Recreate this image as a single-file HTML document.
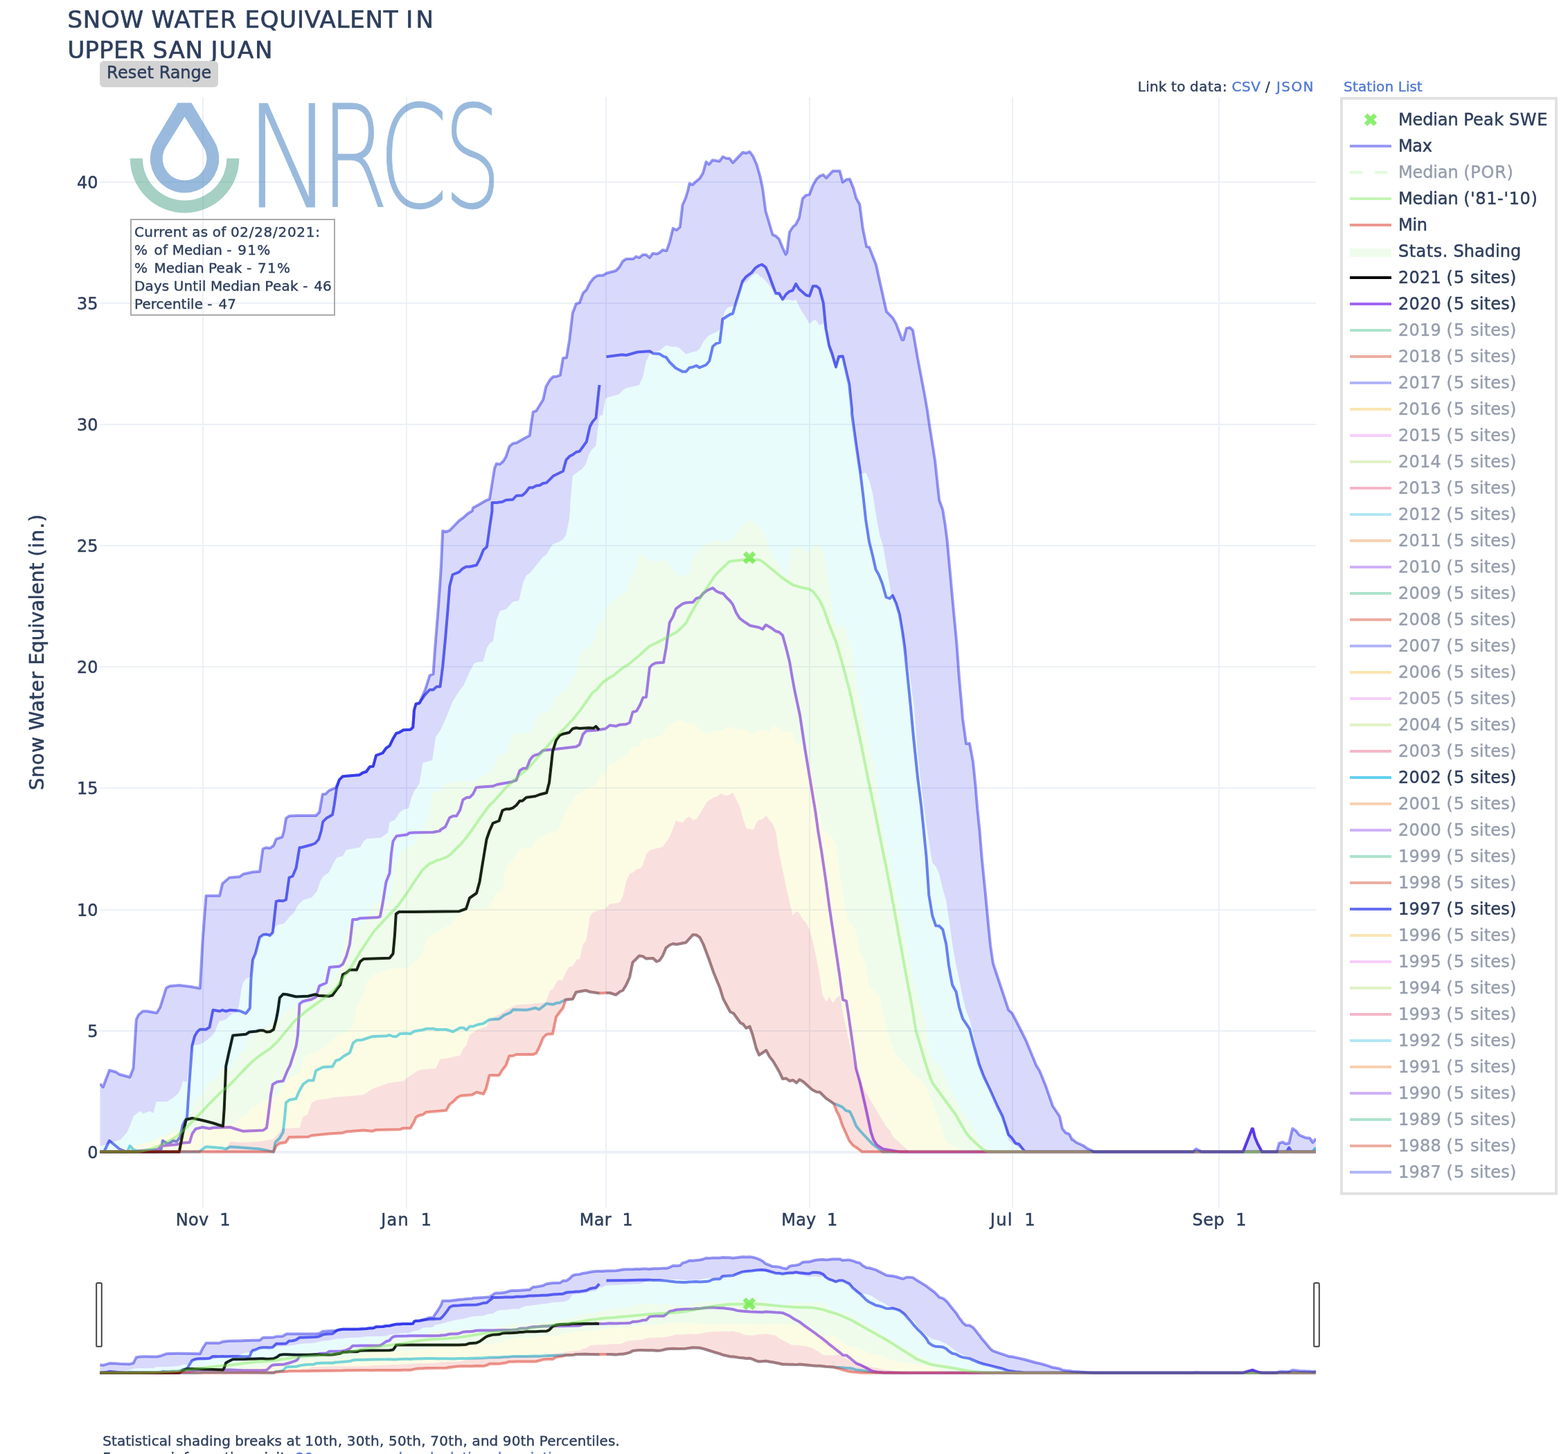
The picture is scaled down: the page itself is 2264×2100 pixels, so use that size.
<!DOCTYPE html>
<html lang="en"><head><meta charset="utf-8"><title>Snow Water Equivalent in Upper San Juan</title>
<style>html,body{margin:0;padding:0;background:#fff}body{width:2264px;height:2100px;overflow:hidden}svg{display:block}text{font-family:'DejaVu Sans','Liberation Sans',sans-serif;fill:rgb(46,62,92);stroke:rgb(46,62,92);white-space:pre}.lk{fill:rgb(81,121,212);stroke:rgb(81,121,212)}.dim{opacity:.5}</style>
</head><body>
<svg width="2264" height="2100" viewBox="0 0 2264 2100">
<rect width="2264" height="2100" fill="#fff"/>
<g stroke="rgb(236,240,247)" stroke-width="2" fill="none">
<path d="M293.0,140 V1744"/>
<path d="M587.0,140 V1744"/>
<path d="M875.0,140 V1744"/>
<path d="M1169.0,140 V1744"/>
<path d="M1462.0,140 V1744"/>
<path d="M1760.0,140 V1744"/>
<path d="M144,1489.0 H1900"/>
<path d="M144,1314.0 H1900"/>
<path d="M144,1138.0 H1900"/>
<path d="M144,963.0 H1900"/>
<path d="M144,788.0 H1900"/>
<path d="M144,613.0 H1900"/>
<path d="M144,438.0 H1900"/>
<path d="M144,263.0 H1900"/>
</g>
<path d="M144,1664.0 H1900" stroke="rgb(236,240,247)" stroke-width="4" fill="none"/>
<g opacity="0.5"><path d="M256.7,148.5 L276.5,148.5 L309.2,203.3 A49.7,49.7 0 1 1 224.0,203.3 Z M266.6,168.7 L293.6,212.0 A31.8,31.8 0 1 1 239.6,212.0 Z" fill="#3777bd" fill-rule="evenodd"/><path d="M187.8,228.8 A78.8,78.8 0 0 0 345.4,228.8 L327.3,228.8 A60.7,60.7 0 0 1 205.9,228.8 Z" fill="#4da389"/><text y="298.7" font-size="204.3" font-weight="200" style="font-family:'DejaVu Sans','Liberation Sans',sans-serif;fill:#3777bd;stroke:#3777bd;stroke-width:1.0"><tspan x="353.84" textLength="126.41" lengthAdjust="spacingAndGlyphs">N</tspan><tspan x="463.21" textLength="97.64" lengthAdjust="spacingAndGlyphs">R</tspan><tspan x="546.60" textLength="100.06" lengthAdjust="spacingAndGlyphs">C</tspan><tspan x="640.70" textLength="82.84" lengthAdjust="spacingAndGlyphs">S</tspan></text></g>
<defs><clipPath id="cp"><rect x="144" y="140" width="1756" height="1604"/></clipPath></defs>
<g clip-path="url(#cp)" fill="none" stroke-linejoin="round" stroke-linecap="butt">
<path d="M144.5,1663.6 L150.0,1663.6 L158.0,1647.5 L172.5,1659.5 L182.5,1663.6 L232.5,1660.0 L235.0,1647.5 L242.5,1652.5 L246.2,1650.0 L250.0,1647.5 L255.0,1648.8 L260.0,1642.5 L263.8,1625.0 L266.2,1620.0 L270.0,1615.0 L273.8,1557.5 L277.5,1510.0 L281.2,1496.2 L285.0,1490.0 L288.8,1486.8 L297.5,1486.8 L302.5,1483.8 L307.5,1458.8 L317.5,1460.5 L321.2,1458.8 L326.2,1460.5 L332.5,1458.8 L346.2,1460.0 L355.0,1463.8 L360.8,1456.2 L362.5,1412.5 L365.0,1386.2 L368.8,1377.5 L375.0,1353.8 L380.0,1350.0 L385.0,1349.5 L389.5,1351.2 L393.8,1347.0 L396.2,1325.0 L398.8,1302.0 L402.5,1300.8 L408.8,1301.2 L413.0,1299.5 L417.5,1267.5 L422.5,1265.5 L427.5,1253.8 L432.5,1224.2 L436.2,1223.8 L450.0,1220.0 L455.0,1218.0 L460.0,1212.5 L463.8,1200.0 L466.2,1186.8 L471.2,1181.8 L480.0,1176.8 L482.5,1163.0 L486.2,1137.5 L490.0,1126.2 L495.0,1121.2 L510.0,1120.0 L518.8,1119.2 L523.8,1116.0 L528.8,1114.5 L533.8,1107.5 L538.8,1106.8 L543.0,1091.2 L552.5,1087.5 L557.5,1080.5 L562.5,1077.2 L567.5,1066.8 L572.0,1059.2 L576.2,1058.0 L582.5,1054.2 L592.5,1053.8 L596.2,1050.5 L598.0,1025.5 L600.5,1016.8 L605.5,1015.5 L613.0,1004.2 L620.5,996.2 L625.5,996.2 L630.5,991.8 L635.5,991.8 L639.2,963.0 L643.0,923.0 L646.8,878.0 L649.2,846.8 L653.5,830.0 L663.0,826.2 L668.0,821.2 L673.0,818.5 L678.0,818.5 L688.0,816.2 L693.0,806.8 L698.0,794.2 L703.0,789.8 L706.8,763.0 L710.5,738.0 L710.5,726.0 L716.8,726.0 L725.5,724.8 L730.5,722.2 L740.5,721.5 L745.5,716.0 L754.2,715.5 L759.2,711.0 L764.2,704.2 L769.2,704.2 L774.2,701.5 L779.2,701.0 L784.2,698.0 L789.2,697.2 L799.2,687.2 L813.0,680.5 L817.5,664.2 L823.0,658.5 L826.8,656.8 L831.8,653.0 L836.8,651.8 L846.8,638.0 L851.8,616.0 L855.5,609.2 L860.5,603.5 L863.0,578.5 L865.5,556.0" stroke="rgb(101,110,242)" stroke-width="4"/>
<path d="M875.5,515.2 L898.0,512.2 L904.2,513.0 L920.5,508.5 L938.0,507.2 L943.0,510.5 L951.8,511.0 L958.0,514.8 L961.8,516.0 L966.8,523.0 L975.5,531.5 L985.5,536.8 L990.5,536.8 L995.5,531.0 L1000.5,530.2 L1005.5,528.0 L1010.0,531.0 L1019.2,527.2 L1024.2,521.5 L1029.2,500.2 L1034.2,496.0 L1039.2,494.8 L1043.5,461.0 L1054.2,454.0 L1058.0,453.0 L1063.0,436.0 L1068.0,419.8 L1072.2,406.0 L1076.8,400.2 L1085.5,393.5 L1090.5,387.2 L1096.0,383.5 L1100.0,382.0 L1105.5,385.8 L1110.0,396.2 L1115.0,410.0 L1120.0,423.8 L1125.0,423.8 L1130.0,432.5 L1135.0,425.0 L1140.0,420.8 L1144.5,419.5 L1149.2,410.0 L1153.8,417.5 L1163.8,426.2 L1168.8,427.5 L1173.8,413.2 L1178.8,413.2 L1183.2,416.8 L1188.8,437.5 L1192.5,475.0 L1197.0,498.8 L1201.2,510.0 L1207.0,530.0 L1211.2,515.0 L1216.8,514.5 L1221.2,533.8 L1226.2,555.0 L1230.0,592.0 L1230.0,597.5 L1236.2,642.5 L1242.5,685.0 L1246.2,715.0 L1250.0,750.0 L1255.0,782.5 L1260.0,802.5 L1264.5,822.5 L1268.8,830.0 L1273.8,842.5 L1279.5,862.5 L1284.5,864.5 L1288.8,860.0 L1293.8,871.2 L1298.8,887.5 L1303.0,912.5 L1306.2,935.0 L1310.0,972.5 L1315.0,1022.0 L1318.8,1063.0 L1325.0,1123.0 L1330.0,1163.0 L1333.8,1200.0 L1337.5,1237.5 L1341.2,1292.5 L1346.2,1322.5 L1351.2,1337.0 L1356.2,1337.5 L1361.2,1342.5 L1366.2,1363.8 L1370.0,1395.0 L1375.0,1422.5 L1380.5,1432.5 L1385.0,1455.0 L1390.0,1471.2 L1400.0,1486.2 L1406.2,1510.0 L1413.8,1537.5 L1420.0,1553.8 L1430.0,1575.0 L1440.0,1597.5 L1447.5,1612.5 L1456.2,1638.8 L1461.2,1643.8 L1466.2,1651.2 L1471.2,1652.5 L1480.0,1663.6 L1482.5,1663.6 L1857.5,1663.6 L1861.2,1657.5 L1865.0,1663.6 L1900.0,1663.6" stroke="rgb(101,110,242)" stroke-width="4"/>
<path d="M144.5,1663.6 L183.8,1663.6 L187.5,1655.0 L192.5,1660.0 L200.0,1663.6 L287.5,1663.6 L297.5,1656.2 L320.0,1658.0 L326.2,1659.5 L332.5,1656.2 L350.0,1657.5 L375.0,1659.5 L395.0,1663.6 L397.5,1650.0 L403.8,1643.8 L408.8,1635.0 L411.2,1612.5 L413.0,1592.5 L417.5,1588.8 L427.5,1586.8 L431.2,1577.5 L437.5,1566.2 L445.0,1560.5 L452.5,1560.5 L456.2,1546.2 L466.2,1541.2 L480.0,1540.5 L485.0,1531.8 L490.0,1530.5 L496.2,1525.5 L505.0,1520.5 L510.0,1506.2 L515.0,1502.5 L522.5,1502.0 L537.5,1497.0 L557.5,1496.2 L562.5,1495.0 L567.5,1497.0 L572.5,1497.0 L577.5,1493.0 L587.5,1492.5 L592.5,1493.2 L598.0,1489.5 L610.5,1487.5 L615.5,1485.8 L625.5,1485.8 L630.5,1487.0 L644.2,1487.0 L654.2,1490.0 L664.2,1484.5 L669.2,1484.5 L673.5,1487.5 L678.0,1482.5 L683.0,1482.5 L689.2,1480.0 L698.0,1478.2 L706.8,1472.5 L720.5,1471.8 L728.0,1466.2 L736.8,1462.5 L741.0,1458.2 L760.5,1458.8 L773.0,1455.8 L778.5,1458.0 L789.2,1449.5 L798.0,1450.8 L803.0,1448.8 L808.0,1448.2 L816.8,1443.8 L826.8,1443.0 L831.8,1433.0 L845.5,1430.5 L851.8,1432.5 L865.5,1434.5" stroke="rgb(99,208,239)" stroke-width="4"/>
<path d="M875.5,1434.0 L880.5,1434.0 L889.2,1436.8 L895.5,1432.0 L899.2,1430.5 L904.2,1422.5 L909.2,1411.2 L913.5,1390.0 L923.0,1380.5 L928.0,1381.2 L933.0,1384.5 L943.0,1384.0 L948.0,1388.8 L952.5,1387.0 L956.8,1380.5 L961.8,1368.8 L966.8,1365.0 L971.8,1363.0 L976.8,1364.0 L990.5,1361.2 L1000.5,1350.0 L1005.5,1350.5 L1010.5,1353.8 L1015.5,1363.8 L1023.0,1383.8 L1030.5,1405.0 L1039.2,1426.2 L1044.2,1442.5 L1054.2,1461.2 L1059.2,1463.8 L1069.2,1477.5 L1073.0,1479.2 L1077.5,1485.0 L1082.5,1482.5 L1086.8,1495.0 L1091.8,1513.8 L1096.0,1523.8 L1106.2,1517.0 L1111.2,1526.2 L1116.2,1532.5 L1125.0,1547.5 L1130.0,1558.2 L1135.0,1557.5 L1140.0,1561.2 L1145.0,1560.0 L1150.0,1563.8 L1154.5,1559.2 L1160.0,1562.5 L1172.5,1573.8 L1178.8,1577.0 L1183.8,1577.5 L1192.5,1586.2 L1203.8,1593.8 L1210.0,1596.2 L1216.2,1598.8 L1221.2,1603.8 L1227.0,1605.5 L1231.2,1613.8 L1236.2,1626.2 L1241.2,1632.5 L1250.0,1642.0 L1260.0,1652.5 L1270.0,1660.0 L1275.0,1663.6 L1895.0,1663.6 L1900.0,1657.5" stroke="rgb(99,208,239)" stroke-width="4"/>
<path d="M144.5,1663.6 L225.0,1663.6 L232.5,1655.0 L255.0,1653.0 L262.5,1650.8 L273.8,1650.0 L277.5,1637.5 L282.5,1630.5 L292.5,1628.0 L302.5,1630.0 L307.5,1628.8 L332.5,1628.0 L340.0,1630.5 L351.2,1633.8 L380.0,1632.5 L385.0,1628.8 L387.5,1610.0 L391.2,1580.0 L393.8,1566.2 L400.0,1562.5 L408.8,1561.2 L415.0,1546.2 L418.8,1538.8 L427.5,1511.2 L430.0,1495.0 L432.5,1450.0 L437.5,1446.2 L450.0,1443.2 L456.2,1440.0 L461.2,1423.8 L471.2,1419.5 L475.8,1397.0 L490.0,1395.8 L495.0,1392.5 L500.0,1381.2 L505.0,1363.8 L509.2,1328.0 L515.0,1328.0 L520.0,1326.2 L545.0,1325.0 L548.8,1323.8 L552.5,1305.0 L557.5,1273.8 L562.5,1261.2 L565.0,1232.5 L567.5,1215.0 L572.5,1207.5 L587.5,1205.5 L591.2,1203.0 L598.0,1202.5 L625.5,1202.0 L635.5,1200.0 L635.5,1198.8 L643.0,1194.2 L649.2,1181.0 L654.2,1178.5 L659.2,1178.5 L664.2,1170.0 L668.5,1155.0 L674.2,1151.8 L678.0,1151.8 L683.0,1146.8 L687.5,1137.5 L693.0,1136.8 L711.8,1135.5 L718.0,1133.0 L739.2,1129.2 L745.5,1126.8 L750.5,1113.0 L755.5,1109.8 L760.5,1109.8 L765.0,1098.0 L769.2,1092.5 L773.0,1090.5 L778.0,1089.2 L784.2,1083.8 L798.0,1082.5 L810.5,1081.0 L831.8,1078.5 L836.8,1075.5 L841.8,1060.5 L846.8,1055.5 L860.5,1054.8 L874.2,1052.5 L880.5,1047.5 L889.2,1048.8 L894.2,1046.8 L904.2,1046.0 L909.2,1043.5 L913.5,1028.5 L919.2,1026.8 L924.2,1018.0 L928.5,1007.5 L933.0,1006.8 L935.5,985.5 L938.0,964.2 L941.8,960.0 L946.8,957.5 L958.0,956.8 L961.8,935.5 L964.2,918.0 L966.8,899.2 L971.8,890.5 L976.0,879.2 L985.5,872.2 L990.5,870.5 L1000.5,869.8 L1005.5,864.2 L1010.5,863.0 L1015.5,856.8 L1020.5,853.0 L1029.2,849.2 L1034.2,853.8 L1039.2,856.0 L1044.2,857.2 L1048.0,861.8 L1054.2,868.0 L1058.0,873.0 L1063.0,885.0 L1068.0,893.0 L1073.0,896.8 L1083.0,903.5 L1096.0,906.2 L1101.2,908.8 L1105.8,902.5 L1112.5,906.2 L1120.5,911.8 L1125.0,913.0 L1130.0,917.5 L1135.0,935.5 L1140.0,955.5 L1143.8,978.0 L1147.5,998.0 L1155.0,1033.0 L1162.5,1083.0 L1170.0,1128.0 L1177.5,1173.0 L1181.2,1200.0 L1186.2,1230.0 L1192.5,1272.5 L1197.5,1310.0 L1205.0,1360.0 L1212.5,1410.0 L1217.0,1443.8 L1222.0,1445.8 L1225.0,1465.0 L1230.0,1500.0 L1236.2,1543.8 L1241.2,1561.2 L1250.0,1600.0 L1257.5,1635.0 L1261.2,1646.2 L1266.2,1653.8 L1275.0,1659.5 L1300.0,1663.6 L1794.8,1663.6 L1807.8,1630.2 L1809.0,1630.2 L1812.0,1642.5 L1816.0,1652.0 L1822.2,1663.6 L1843.5,1663.6 L1900.0,1663.6" stroke="rgb(161,102,242)" stroke-width="4"/>
<path d="M144.5,1663.6 L258.8,1663.6 L263.8,1637.5 L268.8,1617.0 L277.5,1615.0 L287.5,1617.0 L295.0,1618.8 L307.5,1622.0 L315.0,1624.5 L322.0,1626.5 L323.8,1600.0 L326.2,1540.0 L330.0,1522.5 L336.2,1495.5 L355.0,1493.8 L360.0,1490.5 L370.0,1489.5 L375.0,1488.2 L380.0,1488.2 L385.0,1490.5 L390.0,1490.0 L395.0,1487.0 L398.8,1472.5 L401.2,1460.0 L403.8,1441.2 L408.8,1435.8 L413.8,1436.2 L427.5,1439.5 L445.0,1438.8 L455.0,1436.2 L460.0,1438.0 L475.0,1438.8 L480.0,1437.5 L486.2,1428.8 L491.2,1422.5 L495.0,1407.5 L500.0,1405.0 L505.0,1400.8 L515.0,1400.8 L520.0,1388.8 L525.0,1385.0 L562.5,1383.8 L567.5,1377.5 L570.0,1350.0 L571.8,1320.0 L576.2,1317.0 L598.0,1317.0 L663.0,1316.2 L673.0,1312.5 L678.0,1297.0 L688.0,1290.0 L692.5,1273.8 L695.5,1255.0 L699.2,1232.5 L702.5,1212.5 L706.8,1200.0 L711.8,1188.8 L720.5,1185.5 L725.5,1170.5 L730.5,1168.5 L735.5,1168.5 L740.5,1166.8 L745.5,1163.0 L750.5,1156.8 L754.2,1156.8 L760.0,1151.8 L773.0,1150.0 L780.5,1147.2 L789.2,1145.0 L793.0,1130.5 L795.5,1108.0 L798.0,1085.5 L803.0,1069.2 L808.0,1062.2 L813.0,1060.0 L821.8,1058.0 L826.8,1052.5 L831.8,1051.2 L836.8,1052.0 L850.5,1051.2 L856.8,1051.8 L860.5,1049.2 L865.0,1054.2" stroke="#000" stroke-width="4"/>
<path d="M144.5,1663.6 L325.0,1660.0 L332.5,1648.8 L350.0,1650.0 L375.0,1648.8 L395.0,1645.0 L407.5,1630.0 L432.5,1628.8 L437.5,1612.5 L443.8,1610.0 L450.0,1592.5 L457.5,1588.8 L470.0,1587.5 L480.0,1585.0 L525.0,1581.2 L537.5,1572.5 L562.5,1563.8 L582.5,1561.2 L590.0,1555.0 L598.0,1550.0 L603.0,1546.2 L610.5,1544.5 L629.2,1543.0 L635.5,1529.5 L644.2,1528.8 L658.0,1525.5 L664.2,1524.5 L669.2,1513.8 L673.0,1510.0 L678.0,1495.0 L688.0,1487.5 L703.0,1482.5 L706.8,1472.5 L720.5,1465.0 L733.0,1457.5 L745.5,1451.2 L768.0,1450.0 L773.0,1449.2 L788.0,1447.5 L794.2,1430.0 L798.0,1428.8 L804.2,1417.5 L808.0,1415.0 L811.8,1416.2 L818.0,1402.0 L821.8,1396.2 L826.8,1395.5 L833.0,1385.5 L836.8,1385.0 L841.8,1363.8 L846.0,1358.8 L848.0,1347.5 L851.8,1323.8 L855.5,1318.8 L863.0,1315.0 L873.0,1313.8 L880.5,1305.5 L894.2,1303.8 L899.2,1295.0 L904.2,1272.5 L909.2,1262.0 L914.2,1260.0 L919.2,1255.0 L924.2,1254.5 L928.0,1250.0 L933.0,1233.8 L938.0,1228.0 L956.8,1223.0 L965.5,1210.5 L970.5,1200.0 L970.5,1200.0 L975.5,1185.5 L985.5,1188.0 L990.5,1181.8 L995.5,1179.2 L1000.5,1184.2 L1005.5,1183.0 L1014.2,1169.2 L1020.5,1158.0 L1030.5,1151.8 L1035.5,1150.5 L1040.5,1146.0 L1048.0,1149.2 L1053.0,1148.0 L1058.0,1144.2 L1068.0,1164.2 L1073.0,1183.0 L1078.0,1196.8 L1088.0,1198.0 L1093.0,1186.8 L1096.0,1184.2 L1101.2,1183.0 L1106.2,1177.5 L1111.2,1185.0 L1115.5,1189.2 L1120.0,1200.0 L1125.0,1232.5 L1135.0,1280.0 L1144.5,1322.5 L1149.5,1316.2 L1153.8,1318.0 L1158.8,1327.5 L1163.8,1332.0 L1168.8,1342.5 L1175.0,1365.0 L1182.5,1402.5 L1187.5,1436.2 L1193.0,1447.0 L1197.5,1439.2 L1202.5,1448.8 L1207.5,1441.2 L1212.5,1437.5 L1217.5,1465.0 L1225.0,1500.0 L1232.5,1532.5 L1240.0,1555.0 L1250.0,1577.5 L1265.0,1602.5 L1280.0,1627.5 L1285.0,1632.5 L1290.0,1642.5 L1297.5,1648.8 L1305.0,1656.2 L1310.0,1660.0 L1312.5,1663.6 L1900.0,1663.6 L1900.0,1663.6 L1245.0,1663.6 L1237.5,1658.0 L1231.2,1653.8 L1226.2,1647.5 L1221.2,1636.2 L1216.2,1625.0 L1212.0,1612.5 L1207.5,1603.8 L1203.8,1593.8 L1192.5,1586.2 L1183.8,1577.5 L1178.8,1577.0 L1172.5,1573.8 L1160.0,1562.5 L1154.5,1559.2 L1150.0,1563.8 L1145.0,1560.0 L1140.0,1561.2 L1135.0,1557.5 L1130.0,1558.2 L1125.0,1547.5 L1116.2,1532.5 L1111.2,1526.2 L1106.2,1517.0 L1096.0,1523.8 L1091.8,1513.8 L1086.8,1495.0 L1082.5,1482.5 L1077.5,1485.0 L1073.0,1479.2 L1069.2,1477.5 L1059.2,1463.8 L1054.2,1461.2 L1044.2,1442.5 L1039.2,1426.2 L1030.5,1405.0 L1023.0,1383.8 L1015.5,1363.8 L1010.5,1353.8 L1005.5,1350.5 L1000.5,1350.0 L990.5,1361.2 L976.8,1364.0 L971.8,1363.0 L966.8,1365.0 L961.8,1368.8 L956.8,1380.5 L952.5,1387.0 L948.0,1388.8 L943.0,1384.0 L933.0,1384.5 L928.0,1381.2 L923.0,1380.5 L913.5,1390.0 L909.2,1411.2 L904.2,1422.5 L899.2,1430.5 L895.5,1432.0 L889.2,1436.8 L880.5,1434.0 L875.5,1434.0 L865.5,1434.5 L851.8,1432.5 L845.5,1430.5 L831.8,1433.0 L826.8,1443.0 L816.8,1443.8 L813.0,1455.5 L808.0,1462.0 L803.0,1468.8 L798.0,1493.2 L789.2,1493.8 L784.2,1498.8 L779.2,1511.2 L774.2,1521.2 L769.2,1523.0 L745.5,1523.0 L740.5,1525.0 L735.5,1525.0 L730.5,1538.8 L725.5,1545.0 L720.5,1553.0 L706.8,1553.0 L701.8,1572.5 L698.0,1580.0 L688.0,1577.5 L681.8,1581.2 L665.5,1582.5 L660.5,1585.0 L654.2,1591.2 L649.2,1595.0 L644.2,1603.8 L615.5,1606.2 L610.5,1610.0 L605.5,1610.8 L600.5,1613.8 L598.0,1620.0 L592.5,1629.5 L582.5,1629.5 L577.5,1631.2 L542.5,1632.0 L537.5,1633.8 L525.0,1632.5 L500.0,1634.5 L495.0,1636.2 L475.0,1637.5 L450.0,1640.0 L445.0,1642.0 L417.5,1642.5 L412.5,1650.0 L403.8,1651.2 L398.8,1655.0 L395.0,1663.6 L144.5,1663.6Z" fill="rgba(217,47,32,0.15)"/>
<path d="M144.5,1663.6 L185.0,1657.5 L200.0,1652.5 L220.0,1650.0 L232.5,1642.5 L240.0,1642.5 L247.5,1637.5 L262.5,1636.2 L280.0,1635.0 L290.0,1630.0 L312.5,1628.8 L325.0,1625.0 L340.0,1622.5 L347.5,1612.5 L357.5,1610.0 L362.5,1600.0 L375.0,1595.0 L385.0,1587.5 L400.0,1582.5 L410.0,1567.5 L420.0,1555.0 L432.5,1550.0 L437.5,1532.5 L445.0,1522.5 L460.0,1518.8 L475.0,1507.5 L487.5,1495.0 L500.0,1491.2 L510.0,1482.5 L515.0,1455.0 L525.0,1437.5 L530.0,1417.5 L540.0,1407.5 L562.5,1400.0 L575.0,1397.5 L590.0,1397.5 L598.0,1388.8 L605.5,1384.5 L610.5,1376.2 L615.5,1360.0 L620.5,1351.2 L629.2,1348.8 L635.5,1343.8 L645.5,1337.5 L651.8,1336.2 L659.2,1323.8 L668.0,1320.0 L673.0,1313.8 L703.0,1311.2 L708.0,1307.5 L711.8,1300.0 L716.8,1288.8 L723.0,1287.5 L726.8,1281.2 L729.2,1260.0 L733.0,1248.8 L740.5,1242.5 L748.0,1230.0 L754.2,1225.0 L768.0,1223.8 L773.0,1216.2 L778.0,1210.0 L793.0,1203.8 L798.0,1201.2 L805.5,1200.0 L805.5,1200.0 L811.8,1185.5 L818.0,1169.2 L824.2,1163.0 L831.8,1148.0 L838.0,1145.5 L848.0,1138.0 L860.5,1133.5 L866.8,1120.0 L873.0,1118.5 L879.2,1104.2 L889.2,1101.8 L894.2,1096.8 L903.0,1091.8 L910.5,1083.0 L914.2,1078.0 L923.0,1077.5 L928.0,1068.0 L941.8,1066.8 L946.8,1064.2 L955.5,1063.0 L963.0,1050.5 L970.5,1044.2 L983.0,1040.0 L990.5,1044.2 L1000.5,1044.2 L1008.0,1051.8 L1018.0,1059.2 L1028.0,1056.8 L1045.5,1054.2 L1050.5,1050.5 L1056.8,1049.2 L1063.0,1055.5 L1068.0,1052.5 L1073.0,1052.5 L1085.5,1059.2 L1096.0,1055.0 L1101.2,1053.0 L1110.0,1057.5 L1116.2,1048.0 L1122.5,1050.5 L1131.2,1057.5 L1138.8,1056.0 L1143.8,1058.0 L1150.0,1074.2 L1157.5,1073.0 L1162.5,1088.0 L1170.0,1113.0 L1177.5,1148.0 L1185.0,1183.0 L1190.0,1200.0 L1197.5,1205.0 L1207.5,1218.8 L1212.5,1262.5 L1220.0,1310.0 L1225.0,1330.0 L1236.2,1345.0 L1241.2,1372.5 L1250.0,1392.5 L1255.0,1425.0 L1270.0,1437.5 L1275.0,1465.0 L1282.5,1492.5 L1292.5,1522.5 L1305.0,1535.0 L1315.0,1547.5 L1327.5,1558.8 L1340.0,1575.0 L1347.5,1595.0 L1360.0,1630.0 L1365.0,1647.5 L1372.5,1653.8 L1385.0,1658.8 L1392.5,1663.6 L1900.0,1663.6 L1900.0,1663.6 L1312.5,1663.6 L1310.0,1660.0 L1305.0,1656.2 L1297.5,1648.8 L1290.0,1642.5 L1285.0,1632.5 L1280.0,1627.5 L1265.0,1602.5 L1250.0,1577.5 L1240.0,1555.0 L1232.5,1532.5 L1225.0,1500.0 L1217.5,1465.0 L1212.5,1437.5 L1207.5,1441.2 L1202.5,1448.8 L1197.5,1439.2 L1193.0,1447.0 L1187.5,1436.2 L1182.5,1402.5 L1175.0,1365.0 L1168.8,1342.5 L1163.8,1332.0 L1158.8,1327.5 L1153.8,1318.0 L1149.5,1316.2 L1144.5,1322.5 L1135.0,1280.0 L1125.0,1232.5 L1120.0,1200.0 L1115.5,1189.2 L1111.2,1185.0 L1106.2,1177.5 L1101.2,1183.0 L1096.0,1184.2 L1093.0,1186.8 L1088.0,1198.0 L1078.0,1196.8 L1073.0,1183.0 L1068.0,1164.2 L1058.0,1144.2 L1053.0,1148.0 L1048.0,1149.2 L1040.5,1146.0 L1035.5,1150.5 L1030.5,1151.8 L1020.5,1158.0 L1014.2,1169.2 L1005.5,1183.0 L1000.5,1184.2 L995.5,1179.2 L990.5,1181.8 L985.5,1188.0 L975.5,1185.5 L970.5,1200.0 L970.5,1200.0 L965.5,1210.5 L956.8,1223.0 L938.0,1228.0 L933.0,1233.8 L928.0,1250.0 L924.2,1254.5 L919.2,1255.0 L914.2,1260.0 L909.2,1262.0 L904.2,1272.5 L899.2,1295.0 L894.2,1303.8 L880.5,1305.5 L873.0,1313.8 L863.0,1315.0 L855.5,1318.8 L851.8,1323.8 L848.0,1347.5 L846.0,1358.8 L841.8,1363.8 L836.8,1385.0 L833.0,1385.5 L826.8,1395.5 L821.8,1396.2 L818.0,1402.0 L811.8,1416.2 L808.0,1415.0 L804.2,1417.5 L798.0,1428.8 L794.2,1430.0 L788.0,1447.5 L773.0,1449.2 L768.0,1450.0 L745.5,1451.2 L733.0,1457.5 L720.5,1465.0 L706.8,1472.5 L703.0,1482.5 L688.0,1487.5 L678.0,1495.0 L673.0,1510.0 L669.2,1513.8 L664.2,1524.5 L658.0,1525.5 L644.2,1528.8 L635.5,1529.5 L629.2,1543.0 L610.5,1544.5 L603.0,1546.2 L598.0,1550.0 L590.0,1555.0 L582.5,1561.2 L562.5,1563.8 L537.5,1572.5 L525.0,1581.2 L480.0,1585.0 L470.0,1587.5 L457.5,1588.8 L450.0,1592.5 L443.8,1610.0 L437.5,1612.5 L432.5,1628.8 L407.5,1630.0 L395.0,1645.0 L375.0,1648.8 L350.0,1650.0 L332.5,1648.8 L325.0,1660.0 L144.5,1663.6Z" fill="rgba(237,237,78,0.15)"/>
<path d="M144.5,1663.6 L185.2,1656.0 L218.3,1648.5 L230.4,1642.5 L245.4,1634.9 L251.4,1630.4 L268.0,1622.9 L275.5,1607.8 L280.1,1595.8 L284.6,1585.2 L290.6,1583.0 L293.6,1577.0 L299.6,1564.2 L310.2,1559.6 L319.2,1544.6 L335.8,1543.8 L340.3,1532.5 L347.8,1520.5 L353.9,1517.5 L356.9,1505.4 L361.4,1493.4 L370.4,1490.4 L381.0,1485.8 L396.0,1476.8 L405.1,1470.8 L411.1,1461.7 L418.6,1455.7 L429.2,1452.0 L440.0,1449.7 L450.0,1440.0 L470.0,1425.0 L490.0,1400.0 L500.0,1340.0 L525.0,1335.0 L535.0,1315.0 L540.0,1305.0 L562.5,1300.0 L570.0,1250.0 L580.0,1227.5 L598.0,1220.0 L601.8,1215.0 L604.2,1200.0 L610.5,1200.0 L616.8,1183.0 L620.5,1178.0 L624.2,1145.0 L635.5,1141.8 L639.2,1133.0 L660.5,1129.2 L678.0,1128.0 L685.5,1130.5 L691.8,1123.0 L698.0,1120.0 L705.5,1115.5 L713.0,1108.0 L720.5,1090.5 L730.5,1089.2 L740.5,1060.5 L768.0,1056.8 L773.0,1038.0 L778.0,1030.5 L793.0,1027.5 L800.5,1008.0 L805.5,1004.2 L818.0,996.8 L823.0,984.2 L831.8,974.2 L834.2,958.0 L838.0,943.0 L844.2,936.8 L848.0,936.8 L855.5,930.5 L860.5,913.0 L866.8,896.0 L871.8,895.5 L875.5,878.0 L880.5,873.0 L894.2,860.5 L905.5,855.0 L910.5,835.5 L918.0,823.0 L923.0,800.5 L928.0,800.5 L938.0,808.8 L948.0,811.8 L958.0,808.8 L963.0,811.2 L973.0,823.0 L979.2,830.0 L984.2,831.8 L995.5,829.2 L1000.5,803.0 L1005.5,798.0 L1010.5,794.2 L1015.5,788.0 L1023.0,784.2 L1035.5,779.2 L1040.5,780.5 L1043.0,785.5 L1058.0,778.0 L1065.5,766.8 L1073.0,756.8 L1083.0,751.8 L1090.5,754.2 L1096.0,759.2 L1097.5,763.0 L1103.8,770.5 L1110.0,788.0 L1116.2,803.0 L1121.2,810.5 L1125.0,813.0 L1130.0,831.8 L1135.0,831.8 L1140.0,810.5 L1143.8,794.2 L1148.8,790.0 L1157.5,789.2 L1163.8,796.8 L1168.8,798.0 L1173.8,788.0 L1181.2,785.5 L1186.2,789.2 L1191.2,806.8 L1195.0,828.0 L1200.0,868.0 L1205.0,898.0 L1207.5,905.5 L1212.5,901.8 L1220.0,908.0 L1225.0,920.5 L1232.5,955.5 L1240.0,1000.5 L1247.5,1038.0 L1255.0,1073.0 L1262.5,1113.0 L1270.0,1158.0 L1275.0,1200.0 L1282.5,1237.5 L1290.0,1267.5 L1297.5,1305.0 L1302.5,1337.5 L1310.0,1372.5 L1315.0,1395.0 L1320.0,1420.0 L1325.0,1442.5 L1332.5,1457.5 L1337.5,1482.5 L1340.0,1505.0 L1345.0,1525.0 L1350.0,1535.0 L1356.2,1537.5 L1365.0,1555.0 L1375.0,1580.0 L1387.5,1602.5 L1400.0,1620.0 L1410.0,1640.0 L1420.0,1655.0 L1430.0,1663.6 L1900.0,1663.6 L1900.0,1663.6 L1392.5,1663.6 L1385.0,1658.8 L1372.5,1653.8 L1365.0,1647.5 L1360.0,1630.0 L1347.5,1595.0 L1340.0,1575.0 L1327.5,1558.8 L1315.0,1547.5 L1305.0,1535.0 L1292.5,1522.5 L1282.5,1492.5 L1275.0,1465.0 L1270.0,1437.5 L1255.0,1425.0 L1250.0,1392.5 L1241.2,1372.5 L1236.2,1345.0 L1225.0,1330.0 L1220.0,1310.0 L1212.5,1262.5 L1207.5,1218.8 L1197.5,1205.0 L1190.0,1200.0 L1185.0,1183.0 L1177.5,1148.0 L1170.0,1113.0 L1162.5,1088.0 L1157.5,1073.0 L1150.0,1074.2 L1143.8,1058.0 L1138.8,1056.0 L1131.2,1057.5 L1122.5,1050.5 L1116.2,1048.0 L1110.0,1057.5 L1101.2,1053.0 L1096.0,1055.0 L1085.5,1059.2 L1073.0,1052.5 L1068.0,1052.5 L1063.0,1055.5 L1056.8,1049.2 L1050.5,1050.5 L1045.5,1054.2 L1028.0,1056.8 L1018.0,1059.2 L1008.0,1051.8 L1000.5,1044.2 L990.5,1044.2 L983.0,1040.0 L970.5,1044.2 L963.0,1050.5 L955.5,1063.0 L946.8,1064.2 L941.8,1066.8 L928.0,1068.0 L923.0,1077.5 L914.2,1078.0 L910.5,1083.0 L903.0,1091.8 L894.2,1096.8 L889.2,1101.8 L879.2,1104.2 L873.0,1118.5 L866.8,1120.0 L860.5,1133.5 L848.0,1138.0 L838.0,1145.5 L831.8,1148.0 L824.2,1163.0 L818.0,1169.2 L811.8,1185.5 L805.5,1200.0 L805.5,1200.0 L798.0,1201.2 L793.0,1203.8 L778.0,1210.0 L773.0,1216.2 L768.0,1223.8 L754.2,1225.0 L748.0,1230.0 L740.5,1242.5 L733.0,1248.8 L729.2,1260.0 L726.8,1281.2 L723.0,1287.5 L716.8,1288.8 L711.8,1300.0 L708.0,1307.5 L703.0,1311.2 L673.0,1313.8 L668.0,1320.0 L659.2,1323.8 L651.8,1336.2 L645.5,1337.5 L635.5,1343.8 L629.2,1348.8 L620.5,1351.2 L615.5,1360.0 L610.5,1376.2 L605.5,1384.5 L598.0,1388.8 L590.0,1397.5 L575.0,1397.5 L562.5,1400.0 L540.0,1407.5 L530.0,1417.5 L525.0,1437.5 L515.0,1455.0 L510.0,1482.5 L500.0,1491.2 L487.5,1495.0 L475.0,1507.5 L460.0,1518.8 L445.0,1522.5 L437.5,1532.5 L432.5,1550.0 L420.0,1555.0 L410.0,1567.5 L400.0,1582.5 L385.0,1587.5 L375.0,1595.0 L362.5,1600.0 L357.5,1610.0 L347.5,1612.5 L340.0,1622.5 L325.0,1625.0 L312.5,1628.8 L290.0,1630.0 L280.0,1635.0 L262.5,1636.2 L247.5,1637.5 L240.0,1642.5 L232.5,1642.5 L220.0,1650.0 L200.0,1652.5 L185.0,1657.5 L144.5,1663.6Z" fill="rgba(147,234,129,0.15)"/>
<path d="M144.5,1656.0 L174.6,1645.5 L183.7,1634.9 L188.2,1624.4 L192.7,1612.3 L201.7,1604.8 L207.0,1608.6 L216.1,1604.8 L221.3,1607.8 L225.8,1591.3 L240.9,1591.3 L248.4,1586.7 L257.5,1579.2 L260.5,1573.2 L264.2,1561.1 L269.5,1562.7 L272.5,1544.6 L275.5,1520.5 L278.6,1509.9 L289.1,1508.4 L296.6,1503.9 L305.7,1496.4 L310.2,1490.4 L316.2,1475.3 L326.7,1472.3 L334.3,1464.8 L341.8,1461.7 L344.8,1452.7 L347.8,1433.1 L350.8,1419.6 L355.4,1413.6 L361.4,1410.5 L365.0,1386.2 L368.8,1377.5 L375.0,1353.8 L380.0,1350.0 L389.5,1351.2 L393.8,1347.0 L396.2,1340.0 L400.0,1336.2 L410.0,1333.8 L417.5,1325.0 L425.0,1317.5 L430.0,1307.5 L437.5,1300.0 L450.0,1296.2 L457.5,1287.5 L462.5,1272.5 L467.5,1265.0 L475.0,1260.0 L482.5,1245.0 L486.2,1238.8 L495.0,1236.2 L500.0,1227.5 L520.0,1223.8 L525.0,1215.0 L530.0,1211.2 L550.0,1210.0 L560.0,1202.5 L560.5,1200.0 L562.5,1187.5 L570.0,1184.2 L577.5,1173.0 L582.5,1169.2 L590.0,1167.5 L593.8,1153.0 L598.0,1143.0 L605.5,1131.8 L610.5,1101.8 L624.2,1098.0 L629.2,1064.2 L635.5,1055.5 L644.2,1036.8 L653.0,1014.2 L663.0,998.0 L669.2,990.5 L678.0,970.5 L684.2,958.8 L689.2,956.2 L697.5,955.5 L703.0,935.5 L708.0,928.0 L711.8,926.8 L716.8,895.5 L721.8,882.5 L730.5,880.0 L740.5,869.2 L749.2,867.5 L755.5,840.5 L760.5,830.5 L765.5,827.5 L773.0,818.0 L783.0,805.5 L789.2,800.5 L798.0,786.0 L805.5,783.5 L813.0,779.2 L817.5,771.8 L821.8,750.5 L823.0,738.0 L823.5,726.0 L826.8,687.2 L840.5,677.2 L845.5,671.0 L850.5,656.0 L854.2,649.8 L860.5,643.5 L863.0,621.0 L865.5,600.2 L870.0,599.8 L874.2,576.0 L875.5,574.8 L894.2,569.2 L899.2,563.5 L904.2,560.5 L923.0,556.0 L928.0,544.8 L933.0,522.2 L938.0,511.0 L953.0,506.0 L961.8,498.5 L970.5,501.0 L975.5,500.5 L980.5,502.2 L990.5,511.5 L998.0,509.0 L1005.5,507.2 L1010.5,503.5 L1015.5,493.5 L1023.0,484.8 L1034.2,479.8 L1039.2,476.0 L1043.5,461.0 L1045.5,452.2 L1049.2,445.5 L1054.2,443.0 L1060.5,442.2 L1063.0,436.0 L1068.0,419.8 L1072.2,408.5 L1076.8,408.5 L1085.5,398.5 L1091.8,394.8 L1096.0,397.2 L1096.2,398.8 L1101.2,401.2 L1110.0,411.2 L1120.0,423.8 L1130.0,433.8 L1140.0,433.0 L1145.0,434.2 L1149.2,432.5 L1155.0,445.0 L1168.8,467.5 L1173.8,463.2 L1178.0,462.0 L1183.2,470.0 L1188.8,467.0 L1192.5,480.0 L1197.0,507.5 L1207.0,535.0 L1211.2,520.0 L1216.8,516.2 L1221.2,533.8 L1226.2,555.0 L1230.0,592.0 L1236.2,642.5 L1242.5,685.0 L1246.2,683.8 L1250.0,682.5 L1255.0,693.8 L1260.0,712.5 L1265.0,745.0 L1270.0,772.5 L1275.0,788.8 L1280.0,817.5 L1286.2,855.0 L1288.8,863.8 L1293.8,871.2 L1298.8,887.5 L1303.0,912.5 L1306.2,935.0 L1312.5,967.5 L1320.0,1022.0 L1325.0,1088.0 L1331.2,1143.0 L1338.8,1200.0 L1346.2,1246.2 L1351.2,1251.2 L1356.2,1262.5 L1361.2,1283.8 L1366.2,1301.2 L1371.2,1335.0 L1375.0,1362.5 L1380.0,1392.5 L1385.0,1415.0 L1390.0,1440.0 L1395.0,1460.0 L1400.0,1472.5 L1405.0,1492.5 L1413.8,1537.5 L1420.0,1553.8 L1430.0,1575.0 L1440.0,1597.5 L1447.5,1612.5 L1456.2,1647.5 L1466.2,1653.8 L1480.0,1663.6 L1482.5,1663.6 L1900.0,1663.6 L1900.0,1663.6 L1430.0,1663.6 L1420.0,1655.0 L1410.0,1640.0 L1400.0,1620.0 L1387.5,1602.5 L1375.0,1580.0 L1365.0,1555.0 L1356.2,1537.5 L1350.0,1535.0 L1345.0,1525.0 L1340.0,1505.0 L1337.5,1482.5 L1332.5,1457.5 L1325.0,1442.5 L1320.0,1420.0 L1315.0,1395.0 L1310.0,1372.5 L1302.5,1337.5 L1297.5,1305.0 L1290.0,1267.5 L1282.5,1237.5 L1275.0,1200.0 L1270.0,1158.0 L1262.5,1113.0 L1255.0,1073.0 L1247.5,1038.0 L1240.0,1000.5 L1232.5,955.5 L1225.0,920.5 L1220.0,908.0 L1212.5,901.8 L1207.5,905.5 L1205.0,898.0 L1200.0,868.0 L1195.0,828.0 L1191.2,806.8 L1186.2,789.2 L1181.2,785.5 L1173.8,788.0 L1168.8,798.0 L1163.8,796.8 L1157.5,789.2 L1148.8,790.0 L1143.8,794.2 L1140.0,810.5 L1135.0,831.8 L1130.0,831.8 L1125.0,813.0 L1121.2,810.5 L1116.2,803.0 L1110.0,788.0 L1103.8,770.5 L1097.5,763.0 L1096.0,759.2 L1090.5,754.2 L1083.0,751.8 L1073.0,756.8 L1065.5,766.8 L1058.0,778.0 L1043.0,785.5 L1040.5,780.5 L1035.5,779.2 L1023.0,784.2 L1015.5,788.0 L1010.5,794.2 L1005.5,798.0 L1000.5,803.0 L995.5,829.2 L984.2,831.8 L979.2,830.0 L973.0,823.0 L963.0,811.2 L958.0,808.8 L948.0,811.8 L938.0,808.8 L928.0,800.5 L923.0,800.5 L918.0,823.0 L910.5,835.5 L905.5,855.0 L894.2,860.5 L880.5,873.0 L875.5,878.0 L871.8,895.5 L866.8,896.0 L860.5,913.0 L855.5,930.5 L848.0,936.8 L844.2,936.8 L838.0,943.0 L834.2,958.0 L831.8,974.2 L823.0,984.2 L818.0,996.8 L805.5,1004.2 L800.5,1008.0 L793.0,1027.5 L778.0,1030.5 L773.0,1038.0 L768.0,1056.8 L740.5,1060.5 L730.5,1089.2 L720.5,1090.5 L713.0,1108.0 L705.5,1115.5 L698.0,1120.0 L691.8,1123.0 L685.5,1130.5 L678.0,1128.0 L660.5,1129.2 L639.2,1133.0 L635.5,1141.8 L624.2,1145.0 L620.5,1178.0 L616.8,1183.0 L610.5,1200.0 L604.2,1200.0 L601.8,1215.0 L598.0,1220.0 L580.0,1227.5 L570.0,1250.0 L562.5,1300.0 L540.0,1305.0 L535.0,1315.0 L525.0,1335.0 L500.0,1340.0 L490.0,1400.0 L470.0,1425.0 L450.0,1440.0 L440.0,1449.7 L429.2,1452.0 L418.6,1455.7 L411.1,1461.7 L405.1,1470.8 L396.0,1476.8 L381.0,1485.8 L370.4,1490.4 L361.4,1493.4 L356.9,1505.4 L353.9,1517.5 L347.8,1520.5 L340.3,1532.5 L335.8,1543.8 L319.2,1544.6 L310.2,1559.6 L299.6,1564.2 L293.6,1577.0 L290.6,1583.0 L284.6,1585.2 L280.1,1595.8 L275.5,1607.8 L268.0,1622.9 L251.4,1630.4 L245.4,1634.9 L230.4,1642.5 L218.3,1648.5 L185.2,1656.0 L144.5,1663.6Z" fill="rgba(108,233,235,0.15)"/>
<path d="M144.5,1565.5 L148.8,1570.0 L158.0,1545.8 L167.0,1548.2 L172.5,1551.8 L187.5,1555.8 L192.5,1543.0 L194.5,1510.0 L196.8,1472.5 L200.0,1465.8 L206.2,1460.5 L212.5,1460.5 L226.2,1463.0 L231.2,1455.0 L240.0,1427.0 L245.0,1424.2 L258.8,1423.0 L275.0,1425.0 L288.8,1427.5 L292.5,1360.0 L297.5,1293.8 L317.0,1293.8 L321.2,1276.2 L331.2,1267.5 L346.2,1266.2 L351.2,1262.5 L365.0,1259.5 L375.0,1258.8 L379.5,1226.2 L383.8,1224.2 L390.0,1225.0 L395.0,1221.2 L398.8,1211.8 L407.5,1208.8 L410.0,1200.0 L413.0,1181.8 L417.5,1178.5 L430.0,1178.0 L456.2,1178.0 L461.2,1173.0 L465.8,1147.2 L470.0,1146.8 L475.0,1141.8 L485.0,1137.5 L490.0,1126.2 L495.0,1121.2 L510.0,1120.0 L518.8,1119.2 L523.8,1116.0 L528.8,1114.5 L533.8,1107.5 L538.8,1106.8 L543.0,1091.2 L552.5,1087.5 L557.5,1080.5 L562.5,1077.2 L567.5,1066.8 L572.0,1059.2 L576.2,1058.0 L582.5,1054.2 L592.5,1053.8 L596.2,1050.5 L598.0,1025.5 L600.5,1016.8 L605.5,1015.5 L614.2,995.5 L620.5,975.5 L625.5,973.5 L628.0,938.0 L633.0,875.5 L636.8,820.5 L639.2,766.8 L644.2,768.0 L649.2,766.2 L663.0,751.8 L669.2,747.5 L675.5,741.8 L681.8,738.0 L683.0,733.5 L693.0,728.0 L701.8,722.8 L706.8,721.0 L710.5,698.5 L714.2,676.0 L716.8,669.8 L721.8,670.5 L726.8,666.0 L730.5,659.8 L735.5,644.8 L740.5,640.5 L745.5,639.8 L754.2,634.8 L764.8,629.0 L766.8,613.5 L769.8,594.8 L774.2,593.5 L784.2,577.2 L788.5,558.0 L794.2,548.5 L798.8,544.0 L803.0,544.0 L808.8,541.8 L813.0,517.2 L818.0,516.5 L822.2,491.0 L826.8,452.2 L831.8,439.0 L836.8,437.2 L841.8,423.5 L846.8,418.5 L851.8,408.5 L856.8,402.2 L861.8,398.5 L865.5,397.8 L870.5,397.8 L875.5,394.8 L889.2,391.0 L894.2,386.0 L899.2,377.2 L904.2,374.0 L914.2,374.0 L918.5,370.5 L923.0,372.2 L928.0,368.0 L933.0,368.0 L938.0,372.2 L942.5,366.0 L948.0,366.8 L952.5,364.8 L956.8,361.0 L962.5,362.2 L966.8,349.8 L971.8,329.8 L976.8,332.2 L981.8,328.0 L985.5,296.0 L990.0,286.0 L993.0,276.0 L995.5,265.0 L1000.0,266.8 L1005.0,262.0 L1010.0,258.2 L1015.0,250.0 L1019.5,233.8 L1023.8,237.5 L1028.8,231.2 L1038.8,233.0 L1043.8,226.2 L1048.8,228.8 L1053.2,228.8 L1058.2,235.0 L1072.5,220.0 L1077.5,221.2 L1082.5,219.2 L1087.5,226.2 L1092.5,237.5 L1097.5,255.0 L1101.2,272.5 L1105.5,305.0 L1110.0,320.0 L1115.5,338.8 L1120.0,340.8 L1125.0,345.5 L1130.0,358.0 L1134.5,367.5 L1136.2,365.0 L1140.0,335.0 L1145.0,327.5 L1148.8,324.5 L1153.8,315.0 L1158.8,287.0 L1163.8,282.0 L1168.8,280.8 L1173.8,267.5 L1178.8,258.8 L1183.8,254.2 L1188.8,252.5 L1193.0,257.0 L1202.5,247.0 L1212.5,247.0 L1216.8,263.2 L1222.5,259.2 L1227.0,258.8 L1232.5,272.5 L1236.2,286.2 L1241.2,295.0 L1245.8,330.0 L1251.2,356.2 L1255.0,357.0 L1265.0,382.5 L1268.8,400.0 L1273.8,422.5 L1280.0,450.0 L1288.8,458.8 L1293.8,467.5 L1302.5,490.8 L1304.5,490.8 L1308.8,474.2 L1313.8,473.0 L1318.0,477.0 L1325.0,517.5 L1335.0,570.0 L1338.8,592.0 L1342.5,617.5 L1350.0,665.0 L1356.2,722.5 L1361.2,736.2 L1365.0,760.0 L1367.5,780.0 L1371.2,820.0 L1376.2,875.0 L1381.2,927.5 L1385.0,980.0 L1388.8,1022.0 L1390.0,1038.0 L1395.0,1074.2 L1400.0,1073.8 L1405.0,1100.5 L1408.8,1138.0 L1411.2,1168.0 L1414.5,1200.0 L1417.5,1237.5 L1422.5,1287.5 L1427.5,1340.0 L1430.0,1365.0 L1433.8,1391.2 L1440.0,1410.0 L1447.5,1432.5 L1456.2,1458.8 L1461.2,1463.2 L1470.0,1480.0 L1481.2,1502.5 L1490.0,1523.8 L1496.2,1538.8 L1501.2,1547.0 L1510.0,1568.8 L1520.0,1597.5 L1530.0,1612.5 L1533.8,1630.0 L1538.8,1636.2 L1543.8,1638.0 L1548.0,1646.2 L1548.8,1645.8 L1553.8,1650.0 L1563.8,1654.5 L1570.0,1658.8 L1580.0,1663.6 L1722.5,1663.6 L1727.0,1659.2 L1735.0,1663.6 L1794.8,1663.6 L1807.8,1630.2 L1809.0,1630.2 L1812.0,1642.5 L1816.0,1652.0 L1822.2,1663.6 L1843.5,1663.6 L1847.0,1651.2 L1852.0,1649.5 L1856.2,1652.0 L1861.2,1651.2 L1866.2,1630.0 L1871.2,1633.2 L1876.2,1639.5 L1885.0,1643.2 L1891.2,1643.8 L1895.5,1650.0 L1900.0,1644.5 L1900.0,1663.6 L1482.5,1663.6 L1480.0,1663.6 L1466.2,1653.8 L1456.2,1647.5 L1447.5,1612.5 L1440.0,1597.5 L1430.0,1575.0 L1420.0,1553.8 L1413.8,1537.5 L1405.0,1492.5 L1400.0,1472.5 L1395.0,1460.0 L1390.0,1440.0 L1385.0,1415.0 L1380.0,1392.5 L1375.0,1362.5 L1371.2,1335.0 L1366.2,1301.2 L1361.2,1283.8 L1356.2,1262.5 L1351.2,1251.2 L1346.2,1246.2 L1338.8,1200.0 L1331.2,1143.0 L1325.0,1088.0 L1320.0,1022.0 L1312.5,967.5 L1306.2,935.0 L1303.0,912.5 L1298.8,887.5 L1293.8,871.2 L1288.8,863.8 L1286.2,855.0 L1280.0,817.5 L1275.0,788.8 L1270.0,772.5 L1265.0,745.0 L1260.0,712.5 L1255.0,693.8 L1250.0,682.5 L1246.2,683.8 L1242.5,685.0 L1236.2,642.5 L1230.0,592.0 L1226.2,555.0 L1221.2,533.8 L1216.8,516.2 L1211.2,520.0 L1207.0,535.0 L1197.0,507.5 L1192.5,480.0 L1188.8,467.0 L1183.2,470.0 L1178.0,462.0 L1173.8,463.2 L1168.8,467.5 L1155.0,445.0 L1149.2,432.5 L1145.0,434.2 L1140.0,433.0 L1130.0,433.8 L1120.0,423.8 L1110.0,411.2 L1101.2,401.2 L1096.2,398.8 L1096.0,397.2 L1091.8,394.8 L1085.5,398.5 L1076.8,408.5 L1072.2,408.5 L1068.0,419.8 L1063.0,436.0 L1060.5,442.2 L1054.2,443.0 L1049.2,445.5 L1045.5,452.2 L1043.5,461.0 L1039.2,476.0 L1034.2,479.8 L1023.0,484.8 L1015.5,493.5 L1010.5,503.5 L1005.5,507.2 L998.0,509.0 L990.5,511.5 L980.5,502.2 L975.5,500.5 L970.5,501.0 L961.8,498.5 L953.0,506.0 L938.0,511.0 L933.0,522.2 L928.0,544.8 L923.0,556.0 L904.2,560.5 L899.2,563.5 L894.2,569.2 L875.5,574.8 L874.2,576.0 L870.0,599.8 L865.5,600.2 L863.0,621.0 L860.5,643.5 L854.2,649.8 L850.5,656.0 L845.5,671.0 L840.5,677.2 L826.8,687.2 L823.5,726.0 L823.0,738.0 L821.8,750.5 L817.5,771.8 L813.0,779.2 L805.5,783.5 L798.0,786.0 L789.2,800.5 L783.0,805.5 L773.0,818.0 L765.5,827.5 L760.5,830.5 L755.5,840.5 L749.2,867.5 L740.5,869.2 L730.5,880.0 L721.8,882.5 L716.8,895.5 L711.8,926.8 L708.0,928.0 L703.0,935.5 L697.5,955.5 L689.2,956.2 L684.2,958.8 L678.0,970.5 L669.2,990.5 L663.0,998.0 L653.0,1014.2 L644.2,1036.8 L635.5,1055.5 L629.2,1064.2 L624.2,1098.0 L610.5,1101.8 L605.5,1131.8 L598.0,1143.0 L593.8,1153.0 L590.0,1167.5 L582.5,1169.2 L577.5,1173.0 L570.0,1184.2 L562.5,1187.5 L560.5,1200.0 L560.0,1202.5 L550.0,1210.0 L530.0,1211.2 L525.0,1215.0 L520.0,1223.8 L500.0,1227.5 L495.0,1236.2 L486.2,1238.8 L482.5,1245.0 L475.0,1260.0 L467.5,1265.0 L462.5,1272.5 L457.5,1287.5 L450.0,1296.2 L437.5,1300.0 L430.0,1307.5 L425.0,1317.5 L417.5,1325.0 L410.0,1333.8 L400.0,1336.2 L396.2,1340.0 L393.8,1347.0 L389.5,1351.2 L380.0,1350.0 L375.0,1353.8 L368.8,1377.5 L365.0,1386.2 L361.4,1410.5 L355.4,1413.6 L350.8,1419.6 L347.8,1433.1 L344.8,1452.7 L341.8,1461.7 L334.3,1464.8 L326.7,1472.3 L316.2,1475.3 L310.2,1490.4 L305.7,1496.4 L296.6,1503.9 L289.1,1508.4 L278.6,1509.9 L275.5,1520.5 L272.5,1544.6 L269.5,1562.7 L264.2,1561.1 L260.5,1573.2 L257.5,1579.2 L248.4,1586.7 L240.9,1591.3 L225.8,1591.3 L221.3,1607.8 L216.1,1604.8 L207.0,1608.6 L201.7,1604.8 L192.7,1612.3 L188.2,1624.4 L183.7,1634.9 L174.6,1645.5 L144.5,1656.0Z" fill="rgba(1,0,227,0.15)"/>
<path d="M144.5,1663.6 L395.0,1663.6 L398.8,1655.0 L403.8,1651.2 L412.5,1650.0 L417.5,1642.5 L445.0,1642.0 L450.0,1640.0 L475.0,1637.5 L495.0,1636.2 L500.0,1634.5 L525.0,1632.5 L537.5,1633.8 L542.5,1632.0 L577.5,1631.2 L582.5,1629.5 L592.5,1629.5 L598.0,1620.0 L600.5,1613.8 L605.5,1610.8 L610.5,1610.0 L615.5,1606.2 L644.2,1603.8 L649.2,1595.0 L654.2,1591.2 L660.5,1585.0 L665.5,1582.5 L681.8,1581.2 L688.0,1577.5 L698.0,1580.0 L701.8,1572.5 L706.8,1553.0 L720.5,1553.0 L725.5,1545.0 L730.5,1538.8 L735.5,1525.0 L740.5,1525.0 L745.5,1523.0 L769.2,1523.0 L774.2,1521.2 L779.2,1511.2 L784.2,1498.8 L789.2,1493.8 L798.0,1493.2 L803.0,1468.8 L808.0,1462.0 L813.0,1455.5 L816.8,1443.8 L826.8,1443.0 L831.8,1433.0 L845.5,1430.5 L851.8,1432.5 L865.5,1434.5 L875.5,1434.0 L880.5,1434.0 L889.2,1436.8 L895.5,1432.0 L899.2,1430.5 L904.2,1422.5 L909.2,1411.2 L913.5,1390.0 L923.0,1380.5 L928.0,1381.2 L933.0,1384.5 L943.0,1384.0 L948.0,1388.8 L952.5,1387.0 L956.8,1380.5 L961.8,1368.8 L966.8,1365.0 L971.8,1363.0 L976.8,1364.0 L990.5,1361.2 L1000.5,1350.0 L1005.5,1350.5 L1010.5,1353.8 L1015.5,1363.8 L1023.0,1383.8 L1030.5,1405.0 L1039.2,1426.2 L1044.2,1442.5 L1054.2,1461.2 L1059.2,1463.8 L1069.2,1477.5 L1073.0,1479.2 L1077.5,1485.0 L1082.5,1482.5 L1086.8,1495.0 L1091.8,1513.8 L1096.0,1523.8 L1106.2,1517.0 L1111.2,1526.2 L1116.2,1532.5 L1125.0,1547.5 L1130.0,1558.2 L1135.0,1557.5 L1140.0,1561.2 L1145.0,1560.0 L1150.0,1563.8 L1154.5,1559.2 L1160.0,1562.5 L1172.5,1573.8 L1178.8,1577.0 L1183.8,1577.5 L1192.5,1586.2 L1203.8,1593.8 L1207.5,1603.8 L1212.0,1612.5 L1216.2,1625.0 L1221.2,1636.2 L1226.2,1647.5 L1231.2,1653.8 L1237.5,1658.0 L1245.0,1663.6 L1900.0,1663.6" stroke="rgba(217,47,32,0.5)" stroke-width="4"/>
<path d="M144.5,1663.6 L200.0,1663.6 L220.0,1658.8 L232.5,1653.8 L245.0,1647.5 L255.0,1641.2 L265.0,1632.5 L275.0,1622.5 L287.5,1610.0 L302.5,1593.8 L317.5,1578.8 L332.5,1566.2 L350.0,1547.5 L365.0,1532.5 L375.0,1524.5 L390.0,1514.5 L400.0,1505.0 L412.5,1490.0 L425.0,1475.0 L442.5,1460.0 L460.0,1447.5 L475.0,1436.2 L485.0,1427.5 L495.0,1412.5 L505.0,1400.0 L520.0,1375.0 L540.0,1345.0 L557.5,1326.2 L575.0,1307.5 L587.5,1290.0 L598.0,1273.8 L610.5,1256.2 L620.5,1247.0 L624.2,1246.2 L630.5,1242.5 L634.2,1242.0 L645.5,1237.5 L650.5,1233.8 L666.8,1217.5 L673.0,1210.0 L680.5,1200.0 L693.0,1181.8 L706.8,1163.0 L711.8,1158.8 L730.5,1137.5 L748.0,1121.8 L760.5,1111.8 L773.0,1098.0 L788.0,1080.5 L798.0,1069.2 L813.0,1054.2 L828.0,1038.0 L838.0,1025.5 L855.5,1000.5 L860.5,996.8 L870.5,985.5 L880.5,978.5 L885.5,976.0 L898.0,965.5 L908.0,959.2 L923.0,946.8 L938.0,933.0 L948.0,928.5 L960.5,921.8 L975.5,913.8 L980.5,910.0 L990.5,899.8 L998.0,885.5 L1008.0,868.0 L1023.0,845.5 L1033.0,830.5 L1043.0,820.5 L1053.0,811.0 L1060.5,810.0 L1073.0,808.5 L1096.0,808.5 L1100.0,810.5 L1112.5,820.5 L1130.0,835.0 L1145.0,845.0 L1157.5,848.5 L1168.8,851.0 L1173.8,854.2 L1182.5,865.5 L1188.8,878.0 L1197.5,903.0 L1207.5,928.0 L1217.5,963.0 L1227.5,1000.5 L1235.0,1035.5 L1245.0,1083.0 L1255.0,1133.0 L1262.5,1168.0 L1268.8,1200.0 L1280.0,1255.0 L1290.0,1307.5 L1300.0,1362.5 L1310.0,1417.5 L1317.5,1457.5 L1322.5,1488.8 L1332.5,1522.5 L1340.0,1547.5 L1346.2,1563.8 L1362.5,1586.2 L1380.0,1610.0 L1395.0,1636.2 L1400.0,1642.5 L1410.0,1652.0 L1418.8,1660.0 L1427.5,1663.6 L1900.0,1663.6" stroke="rgba(108,233,70,0.4)" stroke-width="4"/>
<path d="M144.5,1565.5 L148.8,1570.0 L158.0,1545.8 L167.0,1548.2 L172.5,1551.8 L187.5,1555.8 L192.5,1543.0 L194.5,1510.0 L196.8,1472.5 L200.0,1465.8 L206.2,1460.5 L212.5,1460.5 L226.2,1463.0 L231.2,1455.0 L240.0,1427.0 L245.0,1424.2 L258.8,1423.0 L275.0,1425.0 L288.8,1427.5 L292.5,1360.0 L297.5,1293.8 L317.0,1293.8 L321.2,1276.2 L331.2,1267.5 L346.2,1266.2 L351.2,1262.5 L365.0,1259.5 L375.0,1258.8 L379.5,1226.2 L383.8,1224.2 L390.0,1225.0 L395.0,1221.2 L398.8,1211.8 L407.5,1208.8 L410.0,1200.0 L413.0,1181.8 L417.5,1178.5 L430.0,1178.0 L456.2,1178.0 L461.2,1173.0 L465.8,1147.2 L470.0,1146.8 L475.0,1141.8 L485.0,1137.5 L490.0,1126.2 L495.0,1121.2 L510.0,1120.0 L518.8,1119.2 L523.8,1116.0 L528.8,1114.5 L533.8,1107.5 L538.8,1106.8 L543.0,1091.2 L552.5,1087.5 L557.5,1080.5 L562.5,1077.2 L567.5,1066.8 L572.0,1059.2 L576.2,1058.0 L582.5,1054.2 L592.5,1053.8 L596.2,1050.5 L598.0,1025.5 L600.5,1016.8 L605.5,1015.5 L614.2,995.5 L620.5,975.5 L625.5,973.5 L628.0,938.0 L633.0,875.5 L636.8,820.5 L639.2,766.8 L644.2,768.0 L649.2,766.2 L663.0,751.8 L669.2,747.5 L675.5,741.8 L681.8,738.0 L683.0,733.5 L693.0,728.0 L701.8,722.8 L706.8,721.0 L710.5,698.5 L714.2,676.0 L716.8,669.8 L721.8,670.5 L726.8,666.0 L730.5,659.8 L735.5,644.8 L740.5,640.5 L745.5,639.8 L754.2,634.8 L764.8,629.0 L766.8,613.5 L769.8,594.8 L774.2,593.5 L784.2,577.2 L788.5,558.0 L794.2,548.5 L798.8,544.0 L803.0,544.0 L808.8,541.8 L813.0,517.2 L818.0,516.5 L822.2,491.0 L826.8,452.2 L831.8,439.0 L836.8,437.2 L841.8,423.5 L846.8,418.5 L851.8,408.5 L856.8,402.2 L861.8,398.5 L865.5,397.8 L870.5,397.8 L875.5,394.8 L889.2,391.0 L894.2,386.0 L899.2,377.2 L904.2,374.0 L914.2,374.0 L918.5,370.5 L923.0,372.2 L928.0,368.0 L933.0,368.0 L938.0,372.2 L942.5,366.0 L948.0,366.8 L952.5,364.8 L956.8,361.0 L962.5,362.2 L966.8,349.8 L971.8,329.8 L976.8,332.2 L981.8,328.0 L985.5,296.0 L990.0,286.0 L993.0,276.0 L995.5,265.0 L1000.0,266.8 L1005.0,262.0 L1010.0,258.2 L1015.0,250.0 L1019.5,233.8 L1023.8,237.5 L1028.8,231.2 L1038.8,233.0 L1043.8,226.2 L1048.8,228.8 L1053.2,228.8 L1058.2,235.0 L1072.5,220.0 L1077.5,221.2 L1082.5,219.2 L1087.5,226.2 L1092.5,237.5 L1097.5,255.0 L1101.2,272.5 L1105.5,305.0 L1110.0,320.0 L1115.5,338.8 L1120.0,340.8 L1125.0,345.5 L1130.0,358.0 L1134.5,367.5 L1136.2,365.0 L1140.0,335.0 L1145.0,327.5 L1148.8,324.5 L1153.8,315.0 L1158.8,287.0 L1163.8,282.0 L1168.8,280.8 L1173.8,267.5 L1178.8,258.8 L1183.8,254.2 L1188.8,252.5 L1193.0,257.0 L1202.5,247.0 L1212.5,247.0 L1216.8,263.2 L1222.5,259.2 L1227.0,258.8 L1232.5,272.5 L1236.2,286.2 L1241.2,295.0 L1245.8,330.0 L1251.2,356.2 L1255.0,357.0 L1265.0,382.5 L1268.8,400.0 L1273.8,422.5 L1280.0,450.0 L1288.8,458.8 L1293.8,467.5 L1302.5,490.8 L1304.5,490.8 L1308.8,474.2 L1313.8,473.0 L1318.0,477.0 L1325.0,517.5 L1335.0,570.0 L1338.8,592.0 L1342.5,617.5 L1350.0,665.0 L1356.2,722.5 L1361.2,736.2 L1365.0,760.0 L1367.5,780.0 L1371.2,820.0 L1376.2,875.0 L1381.2,927.5 L1385.0,980.0 L1388.8,1022.0 L1390.0,1038.0 L1395.0,1074.2 L1400.0,1073.8 L1405.0,1100.5 L1408.8,1138.0 L1411.2,1168.0 L1414.5,1200.0 L1417.5,1237.5 L1422.5,1287.5 L1427.5,1340.0 L1430.0,1365.0 L1433.8,1391.2 L1440.0,1410.0 L1447.5,1432.5 L1456.2,1458.8 L1461.2,1463.2 L1470.0,1480.0 L1481.2,1502.5 L1490.0,1523.8 L1496.2,1538.8 L1501.2,1547.0 L1510.0,1568.8 L1520.0,1597.5 L1530.0,1612.5 L1533.8,1630.0 L1538.8,1636.2 L1543.8,1638.0 L1548.0,1646.2 L1548.8,1645.8 L1553.8,1650.0 L1563.8,1654.5 L1570.0,1658.8 L1580.0,1663.6 L1722.5,1663.6 L1727.0,1659.2 L1735.0,1663.6 L1794.8,1663.6 L1807.8,1630.2 L1809.0,1630.2 L1812.0,1642.5 L1816.0,1652.0 L1822.2,1663.6 L1843.5,1663.6 L1847.0,1651.2 L1852.0,1649.5 L1856.2,1652.0 L1861.2,1651.2 L1866.2,1630.0 L1871.2,1633.2 L1876.2,1639.5 L1885.0,1643.2 L1891.2,1643.8 L1895.5,1650.0 L1900.0,1644.5" stroke="rgba(1,0,227,0.4)" stroke-width="4"/>
</g>
<path d="M1082.05,810.10 L1086.65,814.70 L1091.25,810.10 L1086.65,805.50 L1091.25,800.90 L1086.65,796.30 L1082.05,800.90 L1077.45,796.30 L1072.85,800.90 L1077.45,805.50 L1072.85,810.10 L1077.45,814.70Z" fill="rgba(108,233,70,0.78)"/>
<g transform="translate(0,1789.82) scale(1,0.11594)">
<g fill="none" stroke-linejoin="round" vector-effect="non-scaling-stroke">
<path d="M144.5,1663.6 L150.0,1663.6 L158.0,1647.5 L172.5,1659.5 L182.5,1663.6 L232.5,1660.0 L235.0,1647.5 L242.5,1652.5 L246.2,1650.0 L250.0,1647.5 L255.0,1648.8 L260.0,1642.5 L263.8,1625.0 L266.2,1620.0 L270.0,1615.0 L273.8,1557.5 L277.5,1510.0 L281.2,1496.2 L285.0,1490.0 L288.8,1486.8 L297.5,1486.8 L302.5,1483.8 L307.5,1458.8 L317.5,1460.5 L321.2,1458.8 L326.2,1460.5 L332.5,1458.8 L346.2,1460.0 L355.0,1463.8 L360.8,1456.2 L362.5,1412.5 L365.0,1386.2 L368.8,1377.5 L375.0,1353.8 L380.0,1350.0 L385.0,1349.5 L389.5,1351.2 L393.8,1347.0 L396.2,1325.0 L398.8,1302.0 L402.5,1300.8 L408.8,1301.2 L413.0,1299.5 L417.5,1267.5 L422.5,1265.5 L427.5,1253.8 L432.5,1224.2 L436.2,1223.8 L450.0,1220.0 L455.0,1218.0 L460.0,1212.5 L463.8,1200.0 L466.2,1186.8 L471.2,1181.8 L480.0,1176.8 L482.5,1163.0 L486.2,1137.5 L490.0,1126.2 L495.0,1121.2 L510.0,1120.0 L518.8,1119.2 L523.8,1116.0 L528.8,1114.5 L533.8,1107.5 L538.8,1106.8 L543.0,1091.2 L552.5,1087.5 L557.5,1080.5 L562.5,1077.2 L567.5,1066.8 L572.0,1059.2 L576.2,1058.0 L582.5,1054.2 L592.5,1053.8 L596.2,1050.5 L598.0,1025.5 L600.5,1016.8 L605.5,1015.5 L613.0,1004.2 L620.5,996.2 L625.5,996.2 L630.5,991.8 L635.5,991.8 L639.2,963.0 L643.0,923.0 L646.8,878.0 L649.2,846.8 L653.5,830.0 L663.0,826.2 L668.0,821.2 L673.0,818.5 L678.0,818.5 L688.0,816.2 L693.0,806.8 L698.0,794.2 L703.0,789.8 L706.8,763.0 L710.5,738.0 L710.5,726.0 L716.8,726.0 L725.5,724.8 L730.5,722.2 L740.5,721.5 L745.5,716.0 L754.2,715.5 L759.2,711.0 L764.2,704.2 L769.2,704.2 L774.2,701.5 L779.2,701.0 L784.2,698.0 L789.2,697.2 L799.2,687.2 L813.0,680.5 L817.5,664.2 L823.0,658.5 L826.8,656.8 L831.8,653.0 L836.8,651.8 L846.8,638.0 L851.8,616.0 L855.5,609.2 L860.5,603.5 L863.0,578.5 L865.5,556.0" stroke="rgb(101,110,242)" stroke-width="4" vector-effect="non-scaling-stroke"/>
<path d="M875.5,515.2 L898.0,512.2 L904.2,513.0 L920.5,508.5 L938.0,507.2 L943.0,510.5 L951.8,511.0 L958.0,514.8 L961.8,516.0 L966.8,523.0 L975.5,531.5 L985.5,536.8 L990.5,536.8 L995.5,531.0 L1000.5,530.2 L1005.5,528.0 L1010.0,531.0 L1019.2,527.2 L1024.2,521.5 L1029.2,500.2 L1034.2,496.0 L1039.2,494.8 L1043.5,461.0 L1054.2,454.0 L1058.0,453.0 L1063.0,436.0 L1068.0,419.8 L1072.2,406.0 L1076.8,400.2 L1085.5,393.5 L1090.5,387.2 L1096.0,383.5 L1100.0,382.0 L1105.5,385.8 L1110.0,396.2 L1115.0,410.0 L1120.0,423.8 L1125.0,423.8 L1130.0,432.5 L1135.0,425.0 L1140.0,420.8 L1144.5,419.5 L1149.2,410.0 L1153.8,417.5 L1163.8,426.2 L1168.8,427.5 L1173.8,413.2 L1178.8,413.2 L1183.2,416.8 L1188.8,437.5 L1192.5,475.0 L1197.0,498.8 L1201.2,510.0 L1207.0,530.0 L1211.2,515.0 L1216.8,514.5 L1221.2,533.8 L1226.2,555.0 L1230.0,592.0 L1230.0,597.5 L1236.2,642.5 L1242.5,685.0 L1246.2,715.0 L1250.0,750.0 L1255.0,782.5 L1260.0,802.5 L1264.5,822.5 L1268.8,830.0 L1273.8,842.5 L1279.5,862.5 L1284.5,864.5 L1288.8,860.0 L1293.8,871.2 L1298.8,887.5 L1303.0,912.5 L1306.2,935.0 L1310.0,972.5 L1315.0,1022.0 L1318.8,1063.0 L1325.0,1123.0 L1330.0,1163.0 L1333.8,1200.0 L1337.5,1237.5 L1341.2,1292.5 L1346.2,1322.5 L1351.2,1337.0 L1356.2,1337.5 L1361.2,1342.5 L1366.2,1363.8 L1370.0,1395.0 L1375.0,1422.5 L1380.5,1432.5 L1385.0,1455.0 L1390.0,1471.2 L1400.0,1486.2 L1406.2,1510.0 L1413.8,1537.5 L1420.0,1553.8 L1430.0,1575.0 L1440.0,1597.5 L1447.5,1612.5 L1456.2,1638.8 L1461.2,1643.8 L1466.2,1651.2 L1471.2,1652.5 L1480.0,1663.6 L1482.5,1663.6 L1857.5,1663.6 L1861.2,1657.5 L1865.0,1663.6 L1900.0,1663.6" stroke="rgb(101,110,242)" stroke-width="4" vector-effect="non-scaling-stroke"/>
<path d="M144.5,1663.6 L183.8,1663.6 L187.5,1655.0 L192.5,1660.0 L200.0,1663.6 L287.5,1663.6 L297.5,1656.2 L320.0,1658.0 L326.2,1659.5 L332.5,1656.2 L350.0,1657.5 L375.0,1659.5 L395.0,1663.6 L397.5,1650.0 L403.8,1643.8 L408.8,1635.0 L411.2,1612.5 L413.0,1592.5 L417.5,1588.8 L427.5,1586.8 L431.2,1577.5 L437.5,1566.2 L445.0,1560.5 L452.5,1560.5 L456.2,1546.2 L466.2,1541.2 L480.0,1540.5 L485.0,1531.8 L490.0,1530.5 L496.2,1525.5 L505.0,1520.5 L510.0,1506.2 L515.0,1502.5 L522.5,1502.0 L537.5,1497.0 L557.5,1496.2 L562.5,1495.0 L567.5,1497.0 L572.5,1497.0 L577.5,1493.0 L587.5,1492.5 L592.5,1493.2 L598.0,1489.5 L610.5,1487.5 L615.5,1485.8 L625.5,1485.8 L630.5,1487.0 L644.2,1487.0 L654.2,1490.0 L664.2,1484.5 L669.2,1484.5 L673.5,1487.5 L678.0,1482.5 L683.0,1482.5 L689.2,1480.0 L698.0,1478.2 L706.8,1472.5 L720.5,1471.8 L728.0,1466.2 L736.8,1462.5 L741.0,1458.2 L760.5,1458.8 L773.0,1455.8 L778.5,1458.0 L789.2,1449.5 L798.0,1450.8 L803.0,1448.8 L808.0,1448.2 L816.8,1443.8 L826.8,1443.0 L831.8,1433.0 L845.5,1430.5 L851.8,1432.5 L865.5,1434.5" stroke="rgb(99,208,239)" stroke-width="4" vector-effect="non-scaling-stroke"/>
<path d="M875.5,1434.0 L880.5,1434.0 L889.2,1436.8 L895.5,1432.0 L899.2,1430.5 L904.2,1422.5 L909.2,1411.2 L913.5,1390.0 L923.0,1380.5 L928.0,1381.2 L933.0,1384.5 L943.0,1384.0 L948.0,1388.8 L952.5,1387.0 L956.8,1380.5 L961.8,1368.8 L966.8,1365.0 L971.8,1363.0 L976.8,1364.0 L990.5,1361.2 L1000.5,1350.0 L1005.5,1350.5 L1010.5,1353.8 L1015.5,1363.8 L1023.0,1383.8 L1030.5,1405.0 L1039.2,1426.2 L1044.2,1442.5 L1054.2,1461.2 L1059.2,1463.8 L1069.2,1477.5 L1073.0,1479.2 L1077.5,1485.0 L1082.5,1482.5 L1086.8,1495.0 L1091.8,1513.8 L1096.0,1523.8 L1106.2,1517.0 L1111.2,1526.2 L1116.2,1532.5 L1125.0,1547.5 L1130.0,1558.2 L1135.0,1557.5 L1140.0,1561.2 L1145.0,1560.0 L1150.0,1563.8 L1154.5,1559.2 L1160.0,1562.5 L1172.5,1573.8 L1178.8,1577.0 L1183.8,1577.5 L1192.5,1586.2 L1203.8,1593.8 L1210.0,1596.2 L1216.2,1598.8 L1221.2,1603.8 L1227.0,1605.5 L1231.2,1613.8 L1236.2,1626.2 L1241.2,1632.5 L1250.0,1642.0 L1260.0,1652.5 L1270.0,1660.0 L1275.0,1663.6 L1895.0,1663.6 L1900.0,1657.5" stroke="rgb(99,208,239)" stroke-width="4" vector-effect="non-scaling-stroke"/>
<path d="M144.5,1663.6 L225.0,1663.6 L232.5,1655.0 L255.0,1653.0 L262.5,1650.8 L273.8,1650.0 L277.5,1637.5 L282.5,1630.5 L292.5,1628.0 L302.5,1630.0 L307.5,1628.8 L332.5,1628.0 L340.0,1630.5 L351.2,1633.8 L380.0,1632.5 L385.0,1628.8 L387.5,1610.0 L391.2,1580.0 L393.8,1566.2 L400.0,1562.5 L408.8,1561.2 L415.0,1546.2 L418.8,1538.8 L427.5,1511.2 L430.0,1495.0 L432.5,1450.0 L437.5,1446.2 L450.0,1443.2 L456.2,1440.0 L461.2,1423.8 L471.2,1419.5 L475.8,1397.0 L490.0,1395.8 L495.0,1392.5 L500.0,1381.2 L505.0,1363.8 L509.2,1328.0 L515.0,1328.0 L520.0,1326.2 L545.0,1325.0 L548.8,1323.8 L552.5,1305.0 L557.5,1273.8 L562.5,1261.2 L565.0,1232.5 L567.5,1215.0 L572.5,1207.5 L587.5,1205.5 L591.2,1203.0 L598.0,1202.5 L625.5,1202.0 L635.5,1200.0 L635.5,1198.8 L643.0,1194.2 L649.2,1181.0 L654.2,1178.5 L659.2,1178.5 L664.2,1170.0 L668.5,1155.0 L674.2,1151.8 L678.0,1151.8 L683.0,1146.8 L687.5,1137.5 L693.0,1136.8 L711.8,1135.5 L718.0,1133.0 L739.2,1129.2 L745.5,1126.8 L750.5,1113.0 L755.5,1109.8 L760.5,1109.8 L765.0,1098.0 L769.2,1092.5 L773.0,1090.5 L778.0,1089.2 L784.2,1083.8 L798.0,1082.5 L810.5,1081.0 L831.8,1078.5 L836.8,1075.5 L841.8,1060.5 L846.8,1055.5 L860.5,1054.8 L874.2,1052.5 L880.5,1047.5 L889.2,1048.8 L894.2,1046.8 L904.2,1046.0 L909.2,1043.5 L913.5,1028.5 L919.2,1026.8 L924.2,1018.0 L928.5,1007.5 L933.0,1006.8 L935.5,985.5 L938.0,964.2 L941.8,960.0 L946.8,957.5 L958.0,956.8 L961.8,935.5 L964.2,918.0 L966.8,899.2 L971.8,890.5 L976.0,879.2 L985.5,872.2 L990.5,870.5 L1000.5,869.8 L1005.5,864.2 L1010.5,863.0 L1015.5,856.8 L1020.5,853.0 L1029.2,849.2 L1034.2,853.8 L1039.2,856.0 L1044.2,857.2 L1048.0,861.8 L1054.2,868.0 L1058.0,873.0 L1063.0,885.0 L1068.0,893.0 L1073.0,896.8 L1083.0,903.5 L1096.0,906.2 L1101.2,908.8 L1105.8,902.5 L1112.5,906.2 L1120.5,911.8 L1125.0,913.0 L1130.0,917.5 L1135.0,935.5 L1140.0,955.5 L1143.8,978.0 L1147.5,998.0 L1155.0,1033.0 L1162.5,1083.0 L1170.0,1128.0 L1177.5,1173.0 L1181.2,1200.0 L1186.2,1230.0 L1192.5,1272.5 L1197.5,1310.0 L1205.0,1360.0 L1212.5,1410.0 L1217.0,1443.8 L1222.0,1445.8 L1225.0,1465.0 L1230.0,1500.0 L1236.2,1543.8 L1241.2,1561.2 L1250.0,1600.0 L1257.5,1635.0 L1261.2,1646.2 L1266.2,1653.8 L1275.0,1659.5 L1300.0,1663.6 L1794.8,1663.6 L1807.8,1630.2 L1809.0,1630.2 L1812.0,1642.5 L1816.0,1652.0 L1822.2,1663.6 L1843.5,1663.6 L1900.0,1663.6" stroke="rgb(161,102,242)" stroke-width="4" vector-effect="non-scaling-stroke"/>
<path d="M144.5,1663.6 L258.8,1663.6 L263.8,1637.5 L268.8,1617.0 L277.5,1615.0 L287.5,1617.0 L295.0,1618.8 L307.5,1622.0 L315.0,1624.5 L322.0,1626.5 L323.8,1600.0 L326.2,1540.0 L330.0,1522.5 L336.2,1495.5 L355.0,1493.8 L360.0,1490.5 L370.0,1489.5 L375.0,1488.2 L380.0,1488.2 L385.0,1490.5 L390.0,1490.0 L395.0,1487.0 L398.8,1472.5 L401.2,1460.0 L403.8,1441.2 L408.8,1435.8 L413.8,1436.2 L427.5,1439.5 L445.0,1438.8 L455.0,1436.2 L460.0,1438.0 L475.0,1438.8 L480.0,1437.5 L486.2,1428.8 L491.2,1422.5 L495.0,1407.5 L500.0,1405.0 L505.0,1400.8 L515.0,1400.8 L520.0,1388.8 L525.0,1385.0 L562.5,1383.8 L567.5,1377.5 L570.0,1350.0 L571.8,1320.0 L576.2,1317.0 L598.0,1317.0 L663.0,1316.2 L673.0,1312.5 L678.0,1297.0 L688.0,1290.0 L692.5,1273.8 L695.5,1255.0 L699.2,1232.5 L702.5,1212.5 L706.8,1200.0 L711.8,1188.8 L720.5,1185.5 L725.5,1170.5 L730.5,1168.5 L735.5,1168.5 L740.5,1166.8 L745.5,1163.0 L750.5,1156.8 L754.2,1156.8 L760.0,1151.8 L773.0,1150.0 L780.5,1147.2 L789.2,1145.0 L793.0,1130.5 L795.5,1108.0 L798.0,1085.5 L803.0,1069.2 L808.0,1062.2 L813.0,1060.0 L821.8,1058.0 L826.8,1052.5 L831.8,1051.2 L836.8,1052.0 L850.5,1051.2 L856.8,1051.8 L860.5,1049.2 L865.0,1054.2" stroke="#000" stroke-width="4" vector-effect="non-scaling-stroke"/>
<path d="M144.5,1663.6 L325.0,1660.0 L332.5,1648.8 L350.0,1650.0 L375.0,1648.8 L395.0,1645.0 L407.5,1630.0 L432.5,1628.8 L437.5,1612.5 L443.8,1610.0 L450.0,1592.5 L457.5,1588.8 L470.0,1587.5 L480.0,1585.0 L525.0,1581.2 L537.5,1572.5 L562.5,1563.8 L582.5,1561.2 L590.0,1555.0 L598.0,1550.0 L603.0,1546.2 L610.5,1544.5 L629.2,1543.0 L635.5,1529.5 L644.2,1528.8 L658.0,1525.5 L664.2,1524.5 L669.2,1513.8 L673.0,1510.0 L678.0,1495.0 L688.0,1487.5 L703.0,1482.5 L706.8,1472.5 L720.5,1465.0 L733.0,1457.5 L745.5,1451.2 L768.0,1450.0 L773.0,1449.2 L788.0,1447.5 L794.2,1430.0 L798.0,1428.8 L804.2,1417.5 L808.0,1415.0 L811.8,1416.2 L818.0,1402.0 L821.8,1396.2 L826.8,1395.5 L833.0,1385.5 L836.8,1385.0 L841.8,1363.8 L846.0,1358.8 L848.0,1347.5 L851.8,1323.8 L855.5,1318.8 L863.0,1315.0 L873.0,1313.8 L880.5,1305.5 L894.2,1303.8 L899.2,1295.0 L904.2,1272.5 L909.2,1262.0 L914.2,1260.0 L919.2,1255.0 L924.2,1254.5 L928.0,1250.0 L933.0,1233.8 L938.0,1228.0 L956.8,1223.0 L965.5,1210.5 L970.5,1200.0 L970.5,1200.0 L975.5,1185.5 L985.5,1188.0 L990.5,1181.8 L995.5,1179.2 L1000.5,1184.2 L1005.5,1183.0 L1014.2,1169.2 L1020.5,1158.0 L1030.5,1151.8 L1035.5,1150.5 L1040.5,1146.0 L1048.0,1149.2 L1053.0,1148.0 L1058.0,1144.2 L1068.0,1164.2 L1073.0,1183.0 L1078.0,1196.8 L1088.0,1198.0 L1093.0,1186.8 L1096.0,1184.2 L1101.2,1183.0 L1106.2,1177.5 L1111.2,1185.0 L1115.5,1189.2 L1120.0,1200.0 L1125.0,1232.5 L1135.0,1280.0 L1144.5,1322.5 L1149.5,1316.2 L1153.8,1318.0 L1158.8,1327.5 L1163.8,1332.0 L1168.8,1342.5 L1175.0,1365.0 L1182.5,1402.5 L1187.5,1436.2 L1193.0,1447.0 L1197.5,1439.2 L1202.5,1448.8 L1207.5,1441.2 L1212.5,1437.5 L1217.5,1465.0 L1225.0,1500.0 L1232.5,1532.5 L1240.0,1555.0 L1250.0,1577.5 L1265.0,1602.5 L1280.0,1627.5 L1285.0,1632.5 L1290.0,1642.5 L1297.5,1648.8 L1305.0,1656.2 L1310.0,1660.0 L1312.5,1663.6 L1900.0,1663.6 L1900.0,1663.6 L1245.0,1663.6 L1237.5,1658.0 L1231.2,1653.8 L1226.2,1647.5 L1221.2,1636.2 L1216.2,1625.0 L1212.0,1612.5 L1207.5,1603.8 L1203.8,1593.8 L1192.5,1586.2 L1183.8,1577.5 L1178.8,1577.0 L1172.5,1573.8 L1160.0,1562.5 L1154.5,1559.2 L1150.0,1563.8 L1145.0,1560.0 L1140.0,1561.2 L1135.0,1557.5 L1130.0,1558.2 L1125.0,1547.5 L1116.2,1532.5 L1111.2,1526.2 L1106.2,1517.0 L1096.0,1523.8 L1091.8,1513.8 L1086.8,1495.0 L1082.5,1482.5 L1077.5,1485.0 L1073.0,1479.2 L1069.2,1477.5 L1059.2,1463.8 L1054.2,1461.2 L1044.2,1442.5 L1039.2,1426.2 L1030.5,1405.0 L1023.0,1383.8 L1015.5,1363.8 L1010.5,1353.8 L1005.5,1350.5 L1000.5,1350.0 L990.5,1361.2 L976.8,1364.0 L971.8,1363.0 L966.8,1365.0 L961.8,1368.8 L956.8,1380.5 L952.5,1387.0 L948.0,1388.8 L943.0,1384.0 L933.0,1384.5 L928.0,1381.2 L923.0,1380.5 L913.5,1390.0 L909.2,1411.2 L904.2,1422.5 L899.2,1430.5 L895.5,1432.0 L889.2,1436.8 L880.5,1434.0 L875.5,1434.0 L865.5,1434.5 L851.8,1432.5 L845.5,1430.5 L831.8,1433.0 L826.8,1443.0 L816.8,1443.8 L813.0,1455.5 L808.0,1462.0 L803.0,1468.8 L798.0,1493.2 L789.2,1493.8 L784.2,1498.8 L779.2,1511.2 L774.2,1521.2 L769.2,1523.0 L745.5,1523.0 L740.5,1525.0 L735.5,1525.0 L730.5,1538.8 L725.5,1545.0 L720.5,1553.0 L706.8,1553.0 L701.8,1572.5 L698.0,1580.0 L688.0,1577.5 L681.8,1581.2 L665.5,1582.5 L660.5,1585.0 L654.2,1591.2 L649.2,1595.0 L644.2,1603.8 L615.5,1606.2 L610.5,1610.0 L605.5,1610.8 L600.5,1613.8 L598.0,1620.0 L592.5,1629.5 L582.5,1629.5 L577.5,1631.2 L542.5,1632.0 L537.5,1633.8 L525.0,1632.5 L500.0,1634.5 L495.0,1636.2 L475.0,1637.5 L450.0,1640.0 L445.0,1642.0 L417.5,1642.5 L412.5,1650.0 L403.8,1651.2 L398.8,1655.0 L395.0,1663.6 L144.5,1663.6Z" fill="rgba(217,47,32,0.15)"/>
<path d="M144.5,1663.6 L185.0,1657.5 L200.0,1652.5 L220.0,1650.0 L232.5,1642.5 L240.0,1642.5 L247.5,1637.5 L262.5,1636.2 L280.0,1635.0 L290.0,1630.0 L312.5,1628.8 L325.0,1625.0 L340.0,1622.5 L347.5,1612.5 L357.5,1610.0 L362.5,1600.0 L375.0,1595.0 L385.0,1587.5 L400.0,1582.5 L410.0,1567.5 L420.0,1555.0 L432.5,1550.0 L437.5,1532.5 L445.0,1522.5 L460.0,1518.8 L475.0,1507.5 L487.5,1495.0 L500.0,1491.2 L510.0,1482.5 L515.0,1455.0 L525.0,1437.5 L530.0,1417.5 L540.0,1407.5 L562.5,1400.0 L575.0,1397.5 L590.0,1397.5 L598.0,1388.8 L605.5,1384.5 L610.5,1376.2 L615.5,1360.0 L620.5,1351.2 L629.2,1348.8 L635.5,1343.8 L645.5,1337.5 L651.8,1336.2 L659.2,1323.8 L668.0,1320.0 L673.0,1313.8 L703.0,1311.2 L708.0,1307.5 L711.8,1300.0 L716.8,1288.8 L723.0,1287.5 L726.8,1281.2 L729.2,1260.0 L733.0,1248.8 L740.5,1242.5 L748.0,1230.0 L754.2,1225.0 L768.0,1223.8 L773.0,1216.2 L778.0,1210.0 L793.0,1203.8 L798.0,1201.2 L805.5,1200.0 L805.5,1200.0 L811.8,1185.5 L818.0,1169.2 L824.2,1163.0 L831.8,1148.0 L838.0,1145.5 L848.0,1138.0 L860.5,1133.5 L866.8,1120.0 L873.0,1118.5 L879.2,1104.2 L889.2,1101.8 L894.2,1096.8 L903.0,1091.8 L910.5,1083.0 L914.2,1078.0 L923.0,1077.5 L928.0,1068.0 L941.8,1066.8 L946.8,1064.2 L955.5,1063.0 L963.0,1050.5 L970.5,1044.2 L983.0,1040.0 L990.5,1044.2 L1000.5,1044.2 L1008.0,1051.8 L1018.0,1059.2 L1028.0,1056.8 L1045.5,1054.2 L1050.5,1050.5 L1056.8,1049.2 L1063.0,1055.5 L1068.0,1052.5 L1073.0,1052.5 L1085.5,1059.2 L1096.0,1055.0 L1101.2,1053.0 L1110.0,1057.5 L1116.2,1048.0 L1122.5,1050.5 L1131.2,1057.5 L1138.8,1056.0 L1143.8,1058.0 L1150.0,1074.2 L1157.5,1073.0 L1162.5,1088.0 L1170.0,1113.0 L1177.5,1148.0 L1185.0,1183.0 L1190.0,1200.0 L1197.5,1205.0 L1207.5,1218.8 L1212.5,1262.5 L1220.0,1310.0 L1225.0,1330.0 L1236.2,1345.0 L1241.2,1372.5 L1250.0,1392.5 L1255.0,1425.0 L1270.0,1437.5 L1275.0,1465.0 L1282.5,1492.5 L1292.5,1522.5 L1305.0,1535.0 L1315.0,1547.5 L1327.5,1558.8 L1340.0,1575.0 L1347.5,1595.0 L1360.0,1630.0 L1365.0,1647.5 L1372.5,1653.8 L1385.0,1658.8 L1392.5,1663.6 L1900.0,1663.6 L1900.0,1663.6 L1312.5,1663.6 L1310.0,1660.0 L1305.0,1656.2 L1297.5,1648.8 L1290.0,1642.5 L1285.0,1632.5 L1280.0,1627.5 L1265.0,1602.5 L1250.0,1577.5 L1240.0,1555.0 L1232.5,1532.5 L1225.0,1500.0 L1217.5,1465.0 L1212.5,1437.5 L1207.5,1441.2 L1202.5,1448.8 L1197.5,1439.2 L1193.0,1447.0 L1187.5,1436.2 L1182.5,1402.5 L1175.0,1365.0 L1168.8,1342.5 L1163.8,1332.0 L1158.8,1327.5 L1153.8,1318.0 L1149.5,1316.2 L1144.5,1322.5 L1135.0,1280.0 L1125.0,1232.5 L1120.0,1200.0 L1115.5,1189.2 L1111.2,1185.0 L1106.2,1177.5 L1101.2,1183.0 L1096.0,1184.2 L1093.0,1186.8 L1088.0,1198.0 L1078.0,1196.8 L1073.0,1183.0 L1068.0,1164.2 L1058.0,1144.2 L1053.0,1148.0 L1048.0,1149.2 L1040.5,1146.0 L1035.5,1150.5 L1030.5,1151.8 L1020.5,1158.0 L1014.2,1169.2 L1005.5,1183.0 L1000.5,1184.2 L995.5,1179.2 L990.5,1181.8 L985.5,1188.0 L975.5,1185.5 L970.5,1200.0 L970.5,1200.0 L965.5,1210.5 L956.8,1223.0 L938.0,1228.0 L933.0,1233.8 L928.0,1250.0 L924.2,1254.5 L919.2,1255.0 L914.2,1260.0 L909.2,1262.0 L904.2,1272.5 L899.2,1295.0 L894.2,1303.8 L880.5,1305.5 L873.0,1313.8 L863.0,1315.0 L855.5,1318.8 L851.8,1323.8 L848.0,1347.5 L846.0,1358.8 L841.8,1363.8 L836.8,1385.0 L833.0,1385.5 L826.8,1395.5 L821.8,1396.2 L818.0,1402.0 L811.8,1416.2 L808.0,1415.0 L804.2,1417.5 L798.0,1428.8 L794.2,1430.0 L788.0,1447.5 L773.0,1449.2 L768.0,1450.0 L745.5,1451.2 L733.0,1457.5 L720.5,1465.0 L706.8,1472.5 L703.0,1482.5 L688.0,1487.5 L678.0,1495.0 L673.0,1510.0 L669.2,1513.8 L664.2,1524.5 L658.0,1525.5 L644.2,1528.8 L635.5,1529.5 L629.2,1543.0 L610.5,1544.5 L603.0,1546.2 L598.0,1550.0 L590.0,1555.0 L582.5,1561.2 L562.5,1563.8 L537.5,1572.5 L525.0,1581.2 L480.0,1585.0 L470.0,1587.5 L457.5,1588.8 L450.0,1592.5 L443.8,1610.0 L437.5,1612.5 L432.5,1628.8 L407.5,1630.0 L395.0,1645.0 L375.0,1648.8 L350.0,1650.0 L332.5,1648.8 L325.0,1660.0 L144.5,1663.6Z" fill="rgba(237,237,78,0.15)"/>
<path d="M144.5,1663.6 L185.2,1656.0 L218.3,1648.5 L230.4,1642.5 L245.4,1634.9 L251.4,1630.4 L268.0,1622.9 L275.5,1607.8 L280.1,1595.8 L284.6,1585.2 L290.6,1583.0 L293.6,1577.0 L299.6,1564.2 L310.2,1559.6 L319.2,1544.6 L335.8,1543.8 L340.3,1532.5 L347.8,1520.5 L353.9,1517.5 L356.9,1505.4 L361.4,1493.4 L370.4,1490.4 L381.0,1485.8 L396.0,1476.8 L405.1,1470.8 L411.1,1461.7 L418.6,1455.7 L429.2,1452.0 L440.0,1449.7 L450.0,1440.0 L470.0,1425.0 L490.0,1400.0 L500.0,1340.0 L525.0,1335.0 L535.0,1315.0 L540.0,1305.0 L562.5,1300.0 L570.0,1250.0 L580.0,1227.5 L598.0,1220.0 L601.8,1215.0 L604.2,1200.0 L610.5,1200.0 L616.8,1183.0 L620.5,1178.0 L624.2,1145.0 L635.5,1141.8 L639.2,1133.0 L660.5,1129.2 L678.0,1128.0 L685.5,1130.5 L691.8,1123.0 L698.0,1120.0 L705.5,1115.5 L713.0,1108.0 L720.5,1090.5 L730.5,1089.2 L740.5,1060.5 L768.0,1056.8 L773.0,1038.0 L778.0,1030.5 L793.0,1027.5 L800.5,1008.0 L805.5,1004.2 L818.0,996.8 L823.0,984.2 L831.8,974.2 L834.2,958.0 L838.0,943.0 L844.2,936.8 L848.0,936.8 L855.5,930.5 L860.5,913.0 L866.8,896.0 L871.8,895.5 L875.5,878.0 L880.5,873.0 L894.2,860.5 L905.5,855.0 L910.5,835.5 L918.0,823.0 L923.0,800.5 L928.0,800.5 L938.0,808.8 L948.0,811.8 L958.0,808.8 L963.0,811.2 L973.0,823.0 L979.2,830.0 L984.2,831.8 L995.5,829.2 L1000.5,803.0 L1005.5,798.0 L1010.5,794.2 L1015.5,788.0 L1023.0,784.2 L1035.5,779.2 L1040.5,780.5 L1043.0,785.5 L1058.0,778.0 L1065.5,766.8 L1073.0,756.8 L1083.0,751.8 L1090.5,754.2 L1096.0,759.2 L1097.5,763.0 L1103.8,770.5 L1110.0,788.0 L1116.2,803.0 L1121.2,810.5 L1125.0,813.0 L1130.0,831.8 L1135.0,831.8 L1140.0,810.5 L1143.8,794.2 L1148.8,790.0 L1157.5,789.2 L1163.8,796.8 L1168.8,798.0 L1173.8,788.0 L1181.2,785.5 L1186.2,789.2 L1191.2,806.8 L1195.0,828.0 L1200.0,868.0 L1205.0,898.0 L1207.5,905.5 L1212.5,901.8 L1220.0,908.0 L1225.0,920.5 L1232.5,955.5 L1240.0,1000.5 L1247.5,1038.0 L1255.0,1073.0 L1262.5,1113.0 L1270.0,1158.0 L1275.0,1200.0 L1282.5,1237.5 L1290.0,1267.5 L1297.5,1305.0 L1302.5,1337.5 L1310.0,1372.5 L1315.0,1395.0 L1320.0,1420.0 L1325.0,1442.5 L1332.5,1457.5 L1337.5,1482.5 L1340.0,1505.0 L1345.0,1525.0 L1350.0,1535.0 L1356.2,1537.5 L1365.0,1555.0 L1375.0,1580.0 L1387.5,1602.5 L1400.0,1620.0 L1410.0,1640.0 L1420.0,1655.0 L1430.0,1663.6 L1900.0,1663.6 L1900.0,1663.6 L1392.5,1663.6 L1385.0,1658.8 L1372.5,1653.8 L1365.0,1647.5 L1360.0,1630.0 L1347.5,1595.0 L1340.0,1575.0 L1327.5,1558.8 L1315.0,1547.5 L1305.0,1535.0 L1292.5,1522.5 L1282.5,1492.5 L1275.0,1465.0 L1270.0,1437.5 L1255.0,1425.0 L1250.0,1392.5 L1241.2,1372.5 L1236.2,1345.0 L1225.0,1330.0 L1220.0,1310.0 L1212.5,1262.5 L1207.5,1218.8 L1197.5,1205.0 L1190.0,1200.0 L1185.0,1183.0 L1177.5,1148.0 L1170.0,1113.0 L1162.5,1088.0 L1157.5,1073.0 L1150.0,1074.2 L1143.8,1058.0 L1138.8,1056.0 L1131.2,1057.5 L1122.5,1050.5 L1116.2,1048.0 L1110.0,1057.5 L1101.2,1053.0 L1096.0,1055.0 L1085.5,1059.2 L1073.0,1052.5 L1068.0,1052.5 L1063.0,1055.5 L1056.8,1049.2 L1050.5,1050.5 L1045.5,1054.2 L1028.0,1056.8 L1018.0,1059.2 L1008.0,1051.8 L1000.5,1044.2 L990.5,1044.2 L983.0,1040.0 L970.5,1044.2 L963.0,1050.5 L955.5,1063.0 L946.8,1064.2 L941.8,1066.8 L928.0,1068.0 L923.0,1077.5 L914.2,1078.0 L910.5,1083.0 L903.0,1091.8 L894.2,1096.8 L889.2,1101.8 L879.2,1104.2 L873.0,1118.5 L866.8,1120.0 L860.5,1133.5 L848.0,1138.0 L838.0,1145.5 L831.8,1148.0 L824.2,1163.0 L818.0,1169.2 L811.8,1185.5 L805.5,1200.0 L805.5,1200.0 L798.0,1201.2 L793.0,1203.8 L778.0,1210.0 L773.0,1216.2 L768.0,1223.8 L754.2,1225.0 L748.0,1230.0 L740.5,1242.5 L733.0,1248.8 L729.2,1260.0 L726.8,1281.2 L723.0,1287.5 L716.8,1288.8 L711.8,1300.0 L708.0,1307.5 L703.0,1311.2 L673.0,1313.8 L668.0,1320.0 L659.2,1323.8 L651.8,1336.2 L645.5,1337.5 L635.5,1343.8 L629.2,1348.8 L620.5,1351.2 L615.5,1360.0 L610.5,1376.2 L605.5,1384.5 L598.0,1388.8 L590.0,1397.5 L575.0,1397.5 L562.5,1400.0 L540.0,1407.5 L530.0,1417.5 L525.0,1437.5 L515.0,1455.0 L510.0,1482.5 L500.0,1491.2 L487.5,1495.0 L475.0,1507.5 L460.0,1518.8 L445.0,1522.5 L437.5,1532.5 L432.5,1550.0 L420.0,1555.0 L410.0,1567.5 L400.0,1582.5 L385.0,1587.5 L375.0,1595.0 L362.5,1600.0 L357.5,1610.0 L347.5,1612.5 L340.0,1622.5 L325.0,1625.0 L312.5,1628.8 L290.0,1630.0 L280.0,1635.0 L262.5,1636.2 L247.5,1637.5 L240.0,1642.5 L232.5,1642.5 L220.0,1650.0 L200.0,1652.5 L185.0,1657.5 L144.5,1663.6Z" fill="rgba(147,234,129,0.15)"/>
<path d="M144.5,1656.0 L174.6,1645.5 L183.7,1634.9 L188.2,1624.4 L192.7,1612.3 L201.7,1604.8 L207.0,1608.6 L216.1,1604.8 L221.3,1607.8 L225.8,1591.3 L240.9,1591.3 L248.4,1586.7 L257.5,1579.2 L260.5,1573.2 L264.2,1561.1 L269.5,1562.7 L272.5,1544.6 L275.5,1520.5 L278.6,1509.9 L289.1,1508.4 L296.6,1503.9 L305.7,1496.4 L310.2,1490.4 L316.2,1475.3 L326.7,1472.3 L334.3,1464.8 L341.8,1461.7 L344.8,1452.7 L347.8,1433.1 L350.8,1419.6 L355.4,1413.6 L361.4,1410.5 L365.0,1386.2 L368.8,1377.5 L375.0,1353.8 L380.0,1350.0 L389.5,1351.2 L393.8,1347.0 L396.2,1340.0 L400.0,1336.2 L410.0,1333.8 L417.5,1325.0 L425.0,1317.5 L430.0,1307.5 L437.5,1300.0 L450.0,1296.2 L457.5,1287.5 L462.5,1272.5 L467.5,1265.0 L475.0,1260.0 L482.5,1245.0 L486.2,1238.8 L495.0,1236.2 L500.0,1227.5 L520.0,1223.8 L525.0,1215.0 L530.0,1211.2 L550.0,1210.0 L560.0,1202.5 L560.5,1200.0 L562.5,1187.5 L570.0,1184.2 L577.5,1173.0 L582.5,1169.2 L590.0,1167.5 L593.8,1153.0 L598.0,1143.0 L605.5,1131.8 L610.5,1101.8 L624.2,1098.0 L629.2,1064.2 L635.5,1055.5 L644.2,1036.8 L653.0,1014.2 L663.0,998.0 L669.2,990.5 L678.0,970.5 L684.2,958.8 L689.2,956.2 L697.5,955.5 L703.0,935.5 L708.0,928.0 L711.8,926.8 L716.8,895.5 L721.8,882.5 L730.5,880.0 L740.5,869.2 L749.2,867.5 L755.5,840.5 L760.5,830.5 L765.5,827.5 L773.0,818.0 L783.0,805.5 L789.2,800.5 L798.0,786.0 L805.5,783.5 L813.0,779.2 L817.5,771.8 L821.8,750.5 L823.0,738.0 L823.5,726.0 L826.8,687.2 L840.5,677.2 L845.5,671.0 L850.5,656.0 L854.2,649.8 L860.5,643.5 L863.0,621.0 L865.5,600.2 L870.0,599.8 L874.2,576.0 L875.5,574.8 L894.2,569.2 L899.2,563.5 L904.2,560.5 L923.0,556.0 L928.0,544.8 L933.0,522.2 L938.0,511.0 L953.0,506.0 L961.8,498.5 L970.5,501.0 L975.5,500.5 L980.5,502.2 L990.5,511.5 L998.0,509.0 L1005.5,507.2 L1010.5,503.5 L1015.5,493.5 L1023.0,484.8 L1034.2,479.8 L1039.2,476.0 L1043.5,461.0 L1045.5,452.2 L1049.2,445.5 L1054.2,443.0 L1060.5,442.2 L1063.0,436.0 L1068.0,419.8 L1072.2,408.5 L1076.8,408.5 L1085.5,398.5 L1091.8,394.8 L1096.0,397.2 L1096.2,398.8 L1101.2,401.2 L1110.0,411.2 L1120.0,423.8 L1130.0,433.8 L1140.0,433.0 L1145.0,434.2 L1149.2,432.5 L1155.0,445.0 L1168.8,467.5 L1173.8,463.2 L1178.0,462.0 L1183.2,470.0 L1188.8,467.0 L1192.5,480.0 L1197.0,507.5 L1207.0,535.0 L1211.2,520.0 L1216.8,516.2 L1221.2,533.8 L1226.2,555.0 L1230.0,592.0 L1236.2,642.5 L1242.5,685.0 L1246.2,683.8 L1250.0,682.5 L1255.0,693.8 L1260.0,712.5 L1265.0,745.0 L1270.0,772.5 L1275.0,788.8 L1280.0,817.5 L1286.2,855.0 L1288.8,863.8 L1293.8,871.2 L1298.8,887.5 L1303.0,912.5 L1306.2,935.0 L1312.5,967.5 L1320.0,1022.0 L1325.0,1088.0 L1331.2,1143.0 L1338.8,1200.0 L1346.2,1246.2 L1351.2,1251.2 L1356.2,1262.5 L1361.2,1283.8 L1366.2,1301.2 L1371.2,1335.0 L1375.0,1362.5 L1380.0,1392.5 L1385.0,1415.0 L1390.0,1440.0 L1395.0,1460.0 L1400.0,1472.5 L1405.0,1492.5 L1413.8,1537.5 L1420.0,1553.8 L1430.0,1575.0 L1440.0,1597.5 L1447.5,1612.5 L1456.2,1647.5 L1466.2,1653.8 L1480.0,1663.6 L1482.5,1663.6 L1900.0,1663.6 L1900.0,1663.6 L1430.0,1663.6 L1420.0,1655.0 L1410.0,1640.0 L1400.0,1620.0 L1387.5,1602.5 L1375.0,1580.0 L1365.0,1555.0 L1356.2,1537.5 L1350.0,1535.0 L1345.0,1525.0 L1340.0,1505.0 L1337.5,1482.5 L1332.5,1457.5 L1325.0,1442.5 L1320.0,1420.0 L1315.0,1395.0 L1310.0,1372.5 L1302.5,1337.5 L1297.5,1305.0 L1290.0,1267.5 L1282.5,1237.5 L1275.0,1200.0 L1270.0,1158.0 L1262.5,1113.0 L1255.0,1073.0 L1247.5,1038.0 L1240.0,1000.5 L1232.5,955.5 L1225.0,920.5 L1220.0,908.0 L1212.5,901.8 L1207.5,905.5 L1205.0,898.0 L1200.0,868.0 L1195.0,828.0 L1191.2,806.8 L1186.2,789.2 L1181.2,785.5 L1173.8,788.0 L1168.8,798.0 L1163.8,796.8 L1157.5,789.2 L1148.8,790.0 L1143.8,794.2 L1140.0,810.5 L1135.0,831.8 L1130.0,831.8 L1125.0,813.0 L1121.2,810.5 L1116.2,803.0 L1110.0,788.0 L1103.8,770.5 L1097.5,763.0 L1096.0,759.2 L1090.5,754.2 L1083.0,751.8 L1073.0,756.8 L1065.5,766.8 L1058.0,778.0 L1043.0,785.5 L1040.5,780.5 L1035.5,779.2 L1023.0,784.2 L1015.5,788.0 L1010.5,794.2 L1005.5,798.0 L1000.5,803.0 L995.5,829.2 L984.2,831.8 L979.2,830.0 L973.0,823.0 L963.0,811.2 L958.0,808.8 L948.0,811.8 L938.0,808.8 L928.0,800.5 L923.0,800.5 L918.0,823.0 L910.5,835.5 L905.5,855.0 L894.2,860.5 L880.5,873.0 L875.5,878.0 L871.8,895.5 L866.8,896.0 L860.5,913.0 L855.5,930.5 L848.0,936.8 L844.2,936.8 L838.0,943.0 L834.2,958.0 L831.8,974.2 L823.0,984.2 L818.0,996.8 L805.5,1004.2 L800.5,1008.0 L793.0,1027.5 L778.0,1030.5 L773.0,1038.0 L768.0,1056.8 L740.5,1060.5 L730.5,1089.2 L720.5,1090.5 L713.0,1108.0 L705.5,1115.5 L698.0,1120.0 L691.8,1123.0 L685.5,1130.5 L678.0,1128.0 L660.5,1129.2 L639.2,1133.0 L635.5,1141.8 L624.2,1145.0 L620.5,1178.0 L616.8,1183.0 L610.5,1200.0 L604.2,1200.0 L601.8,1215.0 L598.0,1220.0 L580.0,1227.5 L570.0,1250.0 L562.5,1300.0 L540.0,1305.0 L535.0,1315.0 L525.0,1335.0 L500.0,1340.0 L490.0,1400.0 L470.0,1425.0 L450.0,1440.0 L440.0,1449.7 L429.2,1452.0 L418.6,1455.7 L411.1,1461.7 L405.1,1470.8 L396.0,1476.8 L381.0,1485.8 L370.4,1490.4 L361.4,1493.4 L356.9,1505.4 L353.9,1517.5 L347.8,1520.5 L340.3,1532.5 L335.8,1543.8 L319.2,1544.6 L310.2,1559.6 L299.6,1564.2 L293.6,1577.0 L290.6,1583.0 L284.6,1585.2 L280.1,1595.8 L275.5,1607.8 L268.0,1622.9 L251.4,1630.4 L245.4,1634.9 L230.4,1642.5 L218.3,1648.5 L185.2,1656.0 L144.5,1663.6Z" fill="rgba(108,233,235,0.15)"/>
<path d="M144.5,1565.5 L148.8,1570.0 L158.0,1545.8 L167.0,1548.2 L172.5,1551.8 L187.5,1555.8 L192.5,1543.0 L194.5,1510.0 L196.8,1472.5 L200.0,1465.8 L206.2,1460.5 L212.5,1460.5 L226.2,1463.0 L231.2,1455.0 L240.0,1427.0 L245.0,1424.2 L258.8,1423.0 L275.0,1425.0 L288.8,1427.5 L292.5,1360.0 L297.5,1293.8 L317.0,1293.8 L321.2,1276.2 L331.2,1267.5 L346.2,1266.2 L351.2,1262.5 L365.0,1259.5 L375.0,1258.8 L379.5,1226.2 L383.8,1224.2 L390.0,1225.0 L395.0,1221.2 L398.8,1211.8 L407.5,1208.8 L410.0,1200.0 L413.0,1181.8 L417.5,1178.5 L430.0,1178.0 L456.2,1178.0 L461.2,1173.0 L465.8,1147.2 L470.0,1146.8 L475.0,1141.8 L485.0,1137.5 L490.0,1126.2 L495.0,1121.2 L510.0,1120.0 L518.8,1119.2 L523.8,1116.0 L528.8,1114.5 L533.8,1107.5 L538.8,1106.8 L543.0,1091.2 L552.5,1087.5 L557.5,1080.5 L562.5,1077.2 L567.5,1066.8 L572.0,1059.2 L576.2,1058.0 L582.5,1054.2 L592.5,1053.8 L596.2,1050.5 L598.0,1025.5 L600.5,1016.8 L605.5,1015.5 L614.2,995.5 L620.5,975.5 L625.5,973.5 L628.0,938.0 L633.0,875.5 L636.8,820.5 L639.2,766.8 L644.2,768.0 L649.2,766.2 L663.0,751.8 L669.2,747.5 L675.5,741.8 L681.8,738.0 L683.0,733.5 L693.0,728.0 L701.8,722.8 L706.8,721.0 L710.5,698.5 L714.2,676.0 L716.8,669.8 L721.8,670.5 L726.8,666.0 L730.5,659.8 L735.5,644.8 L740.5,640.5 L745.5,639.8 L754.2,634.8 L764.8,629.0 L766.8,613.5 L769.8,594.8 L774.2,593.5 L784.2,577.2 L788.5,558.0 L794.2,548.5 L798.8,544.0 L803.0,544.0 L808.8,541.8 L813.0,517.2 L818.0,516.5 L822.2,491.0 L826.8,452.2 L831.8,439.0 L836.8,437.2 L841.8,423.5 L846.8,418.5 L851.8,408.5 L856.8,402.2 L861.8,398.5 L865.5,397.8 L870.5,397.8 L875.5,394.8 L889.2,391.0 L894.2,386.0 L899.2,377.2 L904.2,374.0 L914.2,374.0 L918.5,370.5 L923.0,372.2 L928.0,368.0 L933.0,368.0 L938.0,372.2 L942.5,366.0 L948.0,366.8 L952.5,364.8 L956.8,361.0 L962.5,362.2 L966.8,349.8 L971.8,329.8 L976.8,332.2 L981.8,328.0 L985.5,296.0 L990.0,286.0 L993.0,276.0 L995.5,265.0 L1000.0,266.8 L1005.0,262.0 L1010.0,258.2 L1015.0,250.0 L1019.5,233.8 L1023.8,237.5 L1028.8,231.2 L1038.8,233.0 L1043.8,226.2 L1048.8,228.8 L1053.2,228.8 L1058.2,235.0 L1072.5,220.0 L1077.5,221.2 L1082.5,219.2 L1087.5,226.2 L1092.5,237.5 L1097.5,255.0 L1101.2,272.5 L1105.5,305.0 L1110.0,320.0 L1115.5,338.8 L1120.0,340.8 L1125.0,345.5 L1130.0,358.0 L1134.5,367.5 L1136.2,365.0 L1140.0,335.0 L1145.0,327.5 L1148.8,324.5 L1153.8,315.0 L1158.8,287.0 L1163.8,282.0 L1168.8,280.8 L1173.8,267.5 L1178.8,258.8 L1183.8,254.2 L1188.8,252.5 L1193.0,257.0 L1202.5,247.0 L1212.5,247.0 L1216.8,263.2 L1222.5,259.2 L1227.0,258.8 L1232.5,272.5 L1236.2,286.2 L1241.2,295.0 L1245.8,330.0 L1251.2,356.2 L1255.0,357.0 L1265.0,382.5 L1268.8,400.0 L1273.8,422.5 L1280.0,450.0 L1288.8,458.8 L1293.8,467.5 L1302.5,490.8 L1304.5,490.8 L1308.8,474.2 L1313.8,473.0 L1318.0,477.0 L1325.0,517.5 L1335.0,570.0 L1338.8,592.0 L1342.5,617.5 L1350.0,665.0 L1356.2,722.5 L1361.2,736.2 L1365.0,760.0 L1367.5,780.0 L1371.2,820.0 L1376.2,875.0 L1381.2,927.5 L1385.0,980.0 L1388.8,1022.0 L1390.0,1038.0 L1395.0,1074.2 L1400.0,1073.8 L1405.0,1100.5 L1408.8,1138.0 L1411.2,1168.0 L1414.5,1200.0 L1417.5,1237.5 L1422.5,1287.5 L1427.5,1340.0 L1430.0,1365.0 L1433.8,1391.2 L1440.0,1410.0 L1447.5,1432.5 L1456.2,1458.8 L1461.2,1463.2 L1470.0,1480.0 L1481.2,1502.5 L1490.0,1523.8 L1496.2,1538.8 L1501.2,1547.0 L1510.0,1568.8 L1520.0,1597.5 L1530.0,1612.5 L1533.8,1630.0 L1538.8,1636.2 L1543.8,1638.0 L1548.0,1646.2 L1548.8,1645.8 L1553.8,1650.0 L1563.8,1654.5 L1570.0,1658.8 L1580.0,1663.6 L1722.5,1663.6 L1727.0,1659.2 L1735.0,1663.6 L1794.8,1663.6 L1807.8,1630.2 L1809.0,1630.2 L1812.0,1642.5 L1816.0,1652.0 L1822.2,1663.6 L1843.5,1663.6 L1847.0,1651.2 L1852.0,1649.5 L1856.2,1652.0 L1861.2,1651.2 L1866.2,1630.0 L1871.2,1633.2 L1876.2,1639.5 L1885.0,1643.2 L1891.2,1643.8 L1895.5,1650.0 L1900.0,1644.5 L1900.0,1663.6 L1482.5,1663.6 L1480.0,1663.6 L1466.2,1653.8 L1456.2,1647.5 L1447.5,1612.5 L1440.0,1597.5 L1430.0,1575.0 L1420.0,1553.8 L1413.8,1537.5 L1405.0,1492.5 L1400.0,1472.5 L1395.0,1460.0 L1390.0,1440.0 L1385.0,1415.0 L1380.0,1392.5 L1375.0,1362.5 L1371.2,1335.0 L1366.2,1301.2 L1361.2,1283.8 L1356.2,1262.5 L1351.2,1251.2 L1346.2,1246.2 L1338.8,1200.0 L1331.2,1143.0 L1325.0,1088.0 L1320.0,1022.0 L1312.5,967.5 L1306.2,935.0 L1303.0,912.5 L1298.8,887.5 L1293.8,871.2 L1288.8,863.8 L1286.2,855.0 L1280.0,817.5 L1275.0,788.8 L1270.0,772.5 L1265.0,745.0 L1260.0,712.5 L1255.0,693.8 L1250.0,682.5 L1246.2,683.8 L1242.5,685.0 L1236.2,642.5 L1230.0,592.0 L1226.2,555.0 L1221.2,533.8 L1216.8,516.2 L1211.2,520.0 L1207.0,535.0 L1197.0,507.5 L1192.5,480.0 L1188.8,467.0 L1183.2,470.0 L1178.0,462.0 L1173.8,463.2 L1168.8,467.5 L1155.0,445.0 L1149.2,432.5 L1145.0,434.2 L1140.0,433.0 L1130.0,433.8 L1120.0,423.8 L1110.0,411.2 L1101.2,401.2 L1096.2,398.8 L1096.0,397.2 L1091.8,394.8 L1085.5,398.5 L1076.8,408.5 L1072.2,408.5 L1068.0,419.8 L1063.0,436.0 L1060.5,442.2 L1054.2,443.0 L1049.2,445.5 L1045.5,452.2 L1043.5,461.0 L1039.2,476.0 L1034.2,479.8 L1023.0,484.8 L1015.5,493.5 L1010.5,503.5 L1005.5,507.2 L998.0,509.0 L990.5,511.5 L980.5,502.2 L975.5,500.5 L970.5,501.0 L961.8,498.5 L953.0,506.0 L938.0,511.0 L933.0,522.2 L928.0,544.8 L923.0,556.0 L904.2,560.5 L899.2,563.5 L894.2,569.2 L875.5,574.8 L874.2,576.0 L870.0,599.8 L865.5,600.2 L863.0,621.0 L860.5,643.5 L854.2,649.8 L850.5,656.0 L845.5,671.0 L840.5,677.2 L826.8,687.2 L823.5,726.0 L823.0,738.0 L821.8,750.5 L817.5,771.8 L813.0,779.2 L805.5,783.5 L798.0,786.0 L789.2,800.5 L783.0,805.5 L773.0,818.0 L765.5,827.5 L760.5,830.5 L755.5,840.5 L749.2,867.5 L740.5,869.2 L730.5,880.0 L721.8,882.5 L716.8,895.5 L711.8,926.8 L708.0,928.0 L703.0,935.5 L697.5,955.5 L689.2,956.2 L684.2,958.8 L678.0,970.5 L669.2,990.5 L663.0,998.0 L653.0,1014.2 L644.2,1036.8 L635.5,1055.5 L629.2,1064.2 L624.2,1098.0 L610.5,1101.8 L605.5,1131.8 L598.0,1143.0 L593.8,1153.0 L590.0,1167.5 L582.5,1169.2 L577.5,1173.0 L570.0,1184.2 L562.5,1187.5 L560.5,1200.0 L560.0,1202.5 L550.0,1210.0 L530.0,1211.2 L525.0,1215.0 L520.0,1223.8 L500.0,1227.5 L495.0,1236.2 L486.2,1238.8 L482.5,1245.0 L475.0,1260.0 L467.5,1265.0 L462.5,1272.5 L457.5,1287.5 L450.0,1296.2 L437.5,1300.0 L430.0,1307.5 L425.0,1317.5 L417.5,1325.0 L410.0,1333.8 L400.0,1336.2 L396.2,1340.0 L393.8,1347.0 L389.5,1351.2 L380.0,1350.0 L375.0,1353.8 L368.8,1377.5 L365.0,1386.2 L361.4,1410.5 L355.4,1413.6 L350.8,1419.6 L347.8,1433.1 L344.8,1452.7 L341.8,1461.7 L334.3,1464.8 L326.7,1472.3 L316.2,1475.3 L310.2,1490.4 L305.7,1496.4 L296.6,1503.9 L289.1,1508.4 L278.6,1509.9 L275.5,1520.5 L272.5,1544.6 L269.5,1562.7 L264.2,1561.1 L260.5,1573.2 L257.5,1579.2 L248.4,1586.7 L240.9,1591.3 L225.8,1591.3 L221.3,1607.8 L216.1,1604.8 L207.0,1608.6 L201.7,1604.8 L192.7,1612.3 L188.2,1624.4 L183.7,1634.9 L174.6,1645.5 L144.5,1656.0Z" fill="rgba(1,0,227,0.15)"/>
<path d="M144.5,1663.6 L395.0,1663.6 L398.8,1655.0 L403.8,1651.2 L412.5,1650.0 L417.5,1642.5 L445.0,1642.0 L450.0,1640.0 L475.0,1637.5 L495.0,1636.2 L500.0,1634.5 L525.0,1632.5 L537.5,1633.8 L542.5,1632.0 L577.5,1631.2 L582.5,1629.5 L592.5,1629.5 L598.0,1620.0 L600.5,1613.8 L605.5,1610.8 L610.5,1610.0 L615.5,1606.2 L644.2,1603.8 L649.2,1595.0 L654.2,1591.2 L660.5,1585.0 L665.5,1582.5 L681.8,1581.2 L688.0,1577.5 L698.0,1580.0 L701.8,1572.5 L706.8,1553.0 L720.5,1553.0 L725.5,1545.0 L730.5,1538.8 L735.5,1525.0 L740.5,1525.0 L745.5,1523.0 L769.2,1523.0 L774.2,1521.2 L779.2,1511.2 L784.2,1498.8 L789.2,1493.8 L798.0,1493.2 L803.0,1468.8 L808.0,1462.0 L813.0,1455.5 L816.8,1443.8 L826.8,1443.0 L831.8,1433.0 L845.5,1430.5 L851.8,1432.5 L865.5,1434.5 L875.5,1434.0 L880.5,1434.0 L889.2,1436.8 L895.5,1432.0 L899.2,1430.5 L904.2,1422.5 L909.2,1411.2 L913.5,1390.0 L923.0,1380.5 L928.0,1381.2 L933.0,1384.5 L943.0,1384.0 L948.0,1388.8 L952.5,1387.0 L956.8,1380.5 L961.8,1368.8 L966.8,1365.0 L971.8,1363.0 L976.8,1364.0 L990.5,1361.2 L1000.5,1350.0 L1005.5,1350.5 L1010.5,1353.8 L1015.5,1363.8 L1023.0,1383.8 L1030.5,1405.0 L1039.2,1426.2 L1044.2,1442.5 L1054.2,1461.2 L1059.2,1463.8 L1069.2,1477.5 L1073.0,1479.2 L1077.5,1485.0 L1082.5,1482.5 L1086.8,1495.0 L1091.8,1513.8 L1096.0,1523.8 L1106.2,1517.0 L1111.2,1526.2 L1116.2,1532.5 L1125.0,1547.5 L1130.0,1558.2 L1135.0,1557.5 L1140.0,1561.2 L1145.0,1560.0 L1150.0,1563.8 L1154.5,1559.2 L1160.0,1562.5 L1172.5,1573.8 L1178.8,1577.0 L1183.8,1577.5 L1192.5,1586.2 L1203.8,1593.8 L1207.5,1603.8 L1212.0,1612.5 L1216.2,1625.0 L1221.2,1636.2 L1226.2,1647.5 L1231.2,1653.8 L1237.5,1658.0 L1245.0,1663.6 L1900.0,1663.6" stroke="rgba(217,47,32,0.5)" stroke-width="4" vector-effect="non-scaling-stroke"/>
<path d="M144.5,1663.6 L200.0,1663.6 L220.0,1658.8 L232.5,1653.8 L245.0,1647.5 L255.0,1641.2 L265.0,1632.5 L275.0,1622.5 L287.5,1610.0 L302.5,1593.8 L317.5,1578.8 L332.5,1566.2 L350.0,1547.5 L365.0,1532.5 L375.0,1524.5 L390.0,1514.5 L400.0,1505.0 L412.5,1490.0 L425.0,1475.0 L442.5,1460.0 L460.0,1447.5 L475.0,1436.2 L485.0,1427.5 L495.0,1412.5 L505.0,1400.0 L520.0,1375.0 L540.0,1345.0 L557.5,1326.2 L575.0,1307.5 L587.5,1290.0 L598.0,1273.8 L610.5,1256.2 L620.5,1247.0 L624.2,1246.2 L630.5,1242.5 L634.2,1242.0 L645.5,1237.5 L650.5,1233.8 L666.8,1217.5 L673.0,1210.0 L680.5,1200.0 L693.0,1181.8 L706.8,1163.0 L711.8,1158.8 L730.5,1137.5 L748.0,1121.8 L760.5,1111.8 L773.0,1098.0 L788.0,1080.5 L798.0,1069.2 L813.0,1054.2 L828.0,1038.0 L838.0,1025.5 L855.5,1000.5 L860.5,996.8 L870.5,985.5 L880.5,978.5 L885.5,976.0 L898.0,965.5 L908.0,959.2 L923.0,946.8 L938.0,933.0 L948.0,928.5 L960.5,921.8 L975.5,913.8 L980.5,910.0 L990.5,899.8 L998.0,885.5 L1008.0,868.0 L1023.0,845.5 L1033.0,830.5 L1043.0,820.5 L1053.0,811.0 L1060.5,810.0 L1073.0,808.5 L1096.0,808.5 L1100.0,810.5 L1112.5,820.5 L1130.0,835.0 L1145.0,845.0 L1157.5,848.5 L1168.8,851.0 L1173.8,854.2 L1182.5,865.5 L1188.8,878.0 L1197.5,903.0 L1207.5,928.0 L1217.5,963.0 L1227.5,1000.5 L1235.0,1035.5 L1245.0,1083.0 L1255.0,1133.0 L1262.5,1168.0 L1268.8,1200.0 L1280.0,1255.0 L1290.0,1307.5 L1300.0,1362.5 L1310.0,1417.5 L1317.5,1457.5 L1322.5,1488.8 L1332.5,1522.5 L1340.0,1547.5 L1346.2,1563.8 L1362.5,1586.2 L1380.0,1610.0 L1395.0,1636.2 L1400.0,1642.5 L1410.0,1652.0 L1418.8,1660.0 L1427.5,1663.6 L1900.0,1663.6" stroke="rgba(108,233,70,0.4)" stroke-width="4" vector-effect="non-scaling-stroke"/>
<path d="M144.5,1565.5 L148.8,1570.0 L158.0,1545.8 L167.0,1548.2 L172.5,1551.8 L187.5,1555.8 L192.5,1543.0 L194.5,1510.0 L196.8,1472.5 L200.0,1465.8 L206.2,1460.5 L212.5,1460.5 L226.2,1463.0 L231.2,1455.0 L240.0,1427.0 L245.0,1424.2 L258.8,1423.0 L275.0,1425.0 L288.8,1427.5 L292.5,1360.0 L297.5,1293.8 L317.0,1293.8 L321.2,1276.2 L331.2,1267.5 L346.2,1266.2 L351.2,1262.5 L365.0,1259.5 L375.0,1258.8 L379.5,1226.2 L383.8,1224.2 L390.0,1225.0 L395.0,1221.2 L398.8,1211.8 L407.5,1208.8 L410.0,1200.0 L413.0,1181.8 L417.5,1178.5 L430.0,1178.0 L456.2,1178.0 L461.2,1173.0 L465.8,1147.2 L470.0,1146.8 L475.0,1141.8 L485.0,1137.5 L490.0,1126.2 L495.0,1121.2 L510.0,1120.0 L518.8,1119.2 L523.8,1116.0 L528.8,1114.5 L533.8,1107.5 L538.8,1106.8 L543.0,1091.2 L552.5,1087.5 L557.5,1080.5 L562.5,1077.2 L567.5,1066.8 L572.0,1059.2 L576.2,1058.0 L582.5,1054.2 L592.5,1053.8 L596.2,1050.5 L598.0,1025.5 L600.5,1016.8 L605.5,1015.5 L614.2,995.5 L620.5,975.5 L625.5,973.5 L628.0,938.0 L633.0,875.5 L636.8,820.5 L639.2,766.8 L644.2,768.0 L649.2,766.2 L663.0,751.8 L669.2,747.5 L675.5,741.8 L681.8,738.0 L683.0,733.5 L693.0,728.0 L701.8,722.8 L706.8,721.0 L710.5,698.5 L714.2,676.0 L716.8,669.8 L721.8,670.5 L726.8,666.0 L730.5,659.8 L735.5,644.8 L740.5,640.5 L745.5,639.8 L754.2,634.8 L764.8,629.0 L766.8,613.5 L769.8,594.8 L774.2,593.5 L784.2,577.2 L788.5,558.0 L794.2,548.5 L798.8,544.0 L803.0,544.0 L808.8,541.8 L813.0,517.2 L818.0,516.5 L822.2,491.0 L826.8,452.2 L831.8,439.0 L836.8,437.2 L841.8,423.5 L846.8,418.5 L851.8,408.5 L856.8,402.2 L861.8,398.5 L865.5,397.8 L870.5,397.8 L875.5,394.8 L889.2,391.0 L894.2,386.0 L899.2,377.2 L904.2,374.0 L914.2,374.0 L918.5,370.5 L923.0,372.2 L928.0,368.0 L933.0,368.0 L938.0,372.2 L942.5,366.0 L948.0,366.8 L952.5,364.8 L956.8,361.0 L962.5,362.2 L966.8,349.8 L971.8,329.8 L976.8,332.2 L981.8,328.0 L985.5,296.0 L990.0,286.0 L993.0,276.0 L995.5,265.0 L1000.0,266.8 L1005.0,262.0 L1010.0,258.2 L1015.0,250.0 L1019.5,233.8 L1023.8,237.5 L1028.8,231.2 L1038.8,233.0 L1043.8,226.2 L1048.8,228.8 L1053.2,228.8 L1058.2,235.0 L1072.5,220.0 L1077.5,221.2 L1082.5,219.2 L1087.5,226.2 L1092.5,237.5 L1097.5,255.0 L1101.2,272.5 L1105.5,305.0 L1110.0,320.0 L1115.5,338.8 L1120.0,340.8 L1125.0,345.5 L1130.0,358.0 L1134.5,367.5 L1136.2,365.0 L1140.0,335.0 L1145.0,327.5 L1148.8,324.5 L1153.8,315.0 L1158.8,287.0 L1163.8,282.0 L1168.8,280.8 L1173.8,267.5 L1178.8,258.8 L1183.8,254.2 L1188.8,252.5 L1193.0,257.0 L1202.5,247.0 L1212.5,247.0 L1216.8,263.2 L1222.5,259.2 L1227.0,258.8 L1232.5,272.5 L1236.2,286.2 L1241.2,295.0 L1245.8,330.0 L1251.2,356.2 L1255.0,357.0 L1265.0,382.5 L1268.8,400.0 L1273.8,422.5 L1280.0,450.0 L1288.8,458.8 L1293.8,467.5 L1302.5,490.8 L1304.5,490.8 L1308.8,474.2 L1313.8,473.0 L1318.0,477.0 L1325.0,517.5 L1335.0,570.0 L1338.8,592.0 L1342.5,617.5 L1350.0,665.0 L1356.2,722.5 L1361.2,736.2 L1365.0,760.0 L1367.5,780.0 L1371.2,820.0 L1376.2,875.0 L1381.2,927.5 L1385.0,980.0 L1388.8,1022.0 L1390.0,1038.0 L1395.0,1074.2 L1400.0,1073.8 L1405.0,1100.5 L1408.8,1138.0 L1411.2,1168.0 L1414.5,1200.0 L1417.5,1237.5 L1422.5,1287.5 L1427.5,1340.0 L1430.0,1365.0 L1433.8,1391.2 L1440.0,1410.0 L1447.5,1432.5 L1456.2,1458.8 L1461.2,1463.2 L1470.0,1480.0 L1481.2,1502.5 L1490.0,1523.8 L1496.2,1538.8 L1501.2,1547.0 L1510.0,1568.8 L1520.0,1597.5 L1530.0,1612.5 L1533.8,1630.0 L1538.8,1636.2 L1543.8,1638.0 L1548.0,1646.2 L1548.8,1645.8 L1553.8,1650.0 L1563.8,1654.5 L1570.0,1658.8 L1580.0,1663.6 L1722.5,1663.6 L1727.0,1659.2 L1735.0,1663.6 L1794.8,1663.6 L1807.8,1630.2 L1809.0,1630.2 L1812.0,1642.5 L1816.0,1652.0 L1822.2,1663.6 L1843.5,1663.6 L1847.0,1651.2 L1852.0,1649.5 L1856.2,1652.0 L1861.2,1651.2 L1866.2,1630.0 L1871.2,1633.2 L1876.2,1639.5 L1885.0,1643.2 L1891.2,1643.8 L1895.5,1650.0 L1900.0,1644.5" stroke="rgba(1,0,227,0.4)" stroke-width="4" vector-effect="non-scaling-stroke"/>
</g>
</g>
<path d="M1081.75,1887.77 L1086.35,1892.37 L1090.95,1887.77 L1086.35,1883.17 L1090.95,1878.57 L1086.35,1873.97 L1081.75,1878.57 L1077.15,1873.97 L1072.55,1878.57 L1077.15,1883.17 L1072.55,1887.77 L1077.15,1892.37Z" fill="rgba(108,233,70,0.78)"/>
<rect x="139.2" y="1853" width="7.6" height="91.8" rx="1.6" fill="#fff" stroke="#444" stroke-width="2"/>
<rect x="1897.2" y="1853" width="7.6" height="91.8" rx="1.6" fill="#fff" stroke="#444" stroke-width="2"/>
<text y="40.0" font-size="34" stroke-width="0.68"><tspan x="97.50" textLength="121.04">SNOW </tspan><tspan x="218.54" textLength="134.91">WATER </tspan><tspan x="353.45" textLength="232.73">EQUIVALENT </tspan><tspan x="586.18" textLength="39.75">IN</tspan></text>
<text y="84.0" font-size="34" stroke-width="0.68"><tspan x="97.50" textLength="122.98">UPPER </tspan><tspan x="220.48" textLength="83.91">SAN </tspan><tspan x="304.39" textLength="89.05">JUAN</tspan></text>
<rect x="144" y="88" width="171" height="38" rx="6" fill="#d3d3d3"/>
<text y="112.7" font-size="24" stroke-width="0.48"><tspan x="154.08" textLength="75.70">Reset </tspan><tspan x="229.77" textLength="75.55">Range</tspan></text>
<text y="132.3" font-size="20" stroke-width="0.40"><tspan x="1642.82" textLength="48.16">Link </tspan><tspan x="1690.98" textLength="27.06">to </tspan><tspan x="1718.04" textLength="60.50">data: </tspan><tspan x="1778.54" textLength="41.32" class="lk">CSV</tspan><tspan x="1819.86"> </tspan><tspan x="1826.90">/ </tspan><tspan x="1843.02" textLength="53.48" class="lk">JSON</tspan></text>
<text y="132.3" font-size="20" stroke-width="0.40" class="lk"><tspan x="1940.00" textLength="78.78">Station </tspan><tspan x="2018.78" textLength="34.92">List</tspan></text>
<text y="1672.7" font-size="24" stroke-width="0.48"><tspan x="126.24">0</tspan></text>
<text y="1497.7" font-size="24" stroke-width="0.48"><tspan x="126.24">5</tspan></text>
<text y="1322.7" font-size="24" stroke-width="0.48"><tspan x="110.97" textLength="30.53">10</tspan></text>
<text y="1146.7" font-size="24" stroke-width="0.48"><tspan x="110.97" textLength="30.53">15</tspan></text>
<text y="971.7" font-size="24" stroke-width="0.48"><tspan x="110.97" textLength="30.53">20</tspan></text>
<text y="796.7" font-size="24" stroke-width="0.48"><tspan x="110.97" textLength="30.53">25</tspan></text>
<text y="621.7" font-size="24" stroke-width="0.48"><tspan x="110.97" textLength="30.53">30</tspan></text>
<text y="446.7" font-size="24" stroke-width="0.48"><tspan x="110.97" textLength="30.53">35</tspan></text>
<text y="271.7" font-size="24" stroke-width="0.48"><tspan x="110.97" textLength="30.53">40</tspan></text>
<g transform="translate(62.8,942) rotate(-90)"><text y="0.0" font-size="28" stroke-width="0.56"><tspan x="-199.30" textLength="86.63">Snow </tspan><tspan x="-112.67" textLength="94.05">Water </tspan><tspan x="-18.62" textLength="156.91">Equivalent </tspan><tspan x="138.29" textLength="61.01">(in.)</tspan></text></g>
<text y="1769.5" font-size="24" stroke-width="0.48"><tspan x="253.70" textLength="63.62">Nov  </tspan><tspan x="317.32">1</tspan></text>
<text y="1769.5" font-size="24" stroke-width="0.48"><tspan x="550.26" textLength="57.43">Jan  </tspan><tspan x="607.69">1</tspan></text>
<text y="1769.5" font-size="24" stroke-width="0.48"><tspan x="836.73" textLength="61.80">Mar  </tspan><tspan x="898.53">1</tspan></text>
<text y="1769.5" font-size="24" stroke-width="0.48"><tspan x="1128.22" textLength="65.76">May  </tspan><tspan x="1193.98">1</tspan></text>
<text y="1769.5" font-size="24" stroke-width="0.48"><tspan x="1429.78" textLength="49.58">Jul  </tspan><tspan x="1479.36">1</tspan></text>
<text y="1769.5" font-size="24" stroke-width="0.48"><tspan x="1721.57" textLength="62.57">Sep  </tspan><tspan x="1784.13">1</tspan></text>
<rect x="189" y="317" width="294" height="138" fill="none" stroke="#aaa" stroke-width="2"/>
<text y="342.2" font-size="20" stroke-width="0.40"><tspan x="194.00" textLength="83.20">Current </tspan><tspan x="277.20" textLength="29.48">as </tspan><tspan x="306.68" textLength="26.22">of </tspan><tspan x="332.90" textLength="129.00">02/28/2021:</tspan></text>
<text y="368.2" font-size="20" stroke-width="0.40"><tspan x="194.00">% </tspan><tspan x="222.56" textLength="26.22">of </tspan><tspan x="248.78" textLength="78.44">Median </tspan><tspan x="327.22">- </tspan><tspan x="343.34" textLength="46.96">91%</tspan></text>
<text y="394.2" font-size="20" stroke-width="0.40"><tspan x="194.00">% </tspan><tspan x="222.56" textLength="78.44">Median </tspan><tspan x="301.00" textLength="54.88">Peak </tspan><tspan x="355.88">- </tspan><tspan x="372.00" textLength="46.96">71%</tspan></text>
<text y="420.2" font-size="20" stroke-width="0.40"><tspan x="194.00" textLength="56.74">Days </tspan><tspan x="250.74" textLength="53.18">Until </tspan><tspan x="303.92" textLength="78.44">Median </tspan><tspan x="382.36" textLength="54.88">Peak </tspan><tspan x="437.24">- </tspan><tspan x="453.36" textLength="25.44">46</tspan></text>
<text y="446.2" font-size="20" stroke-width="0.40"><tspan x="194.00" textLength="105.32">Percentile </tspan><tspan x="299.32">- </tspan><tspan x="315.44" textLength="25.44">47</tspan></text>
<text y="2087.8" font-size="20" stroke-width="0.40"><tspan x="148.30" textLength="105.68">Statistical </tspan><tspan x="253.98" textLength="85.20">shading </tspan><tspan x="339.18" textLength="74.24">breaks </tspan><tspan x="413.42" textLength="26.94">at </tspan><tspan x="440.36" textLength="60.30">10th, </tspan><tspan x="500.66" textLength="60.30">30th, </tspan><tspan x="560.96" textLength="60.30">50th, </tspan><tspan x="621.26" textLength="60.30">70th, </tspan><tspan x="681.56" textLength="44.18">and </tspan><tspan x="725.74" textLength="53.02">90th </tspan><tspan x="778.76" textLength="115.98">Percentiles.</tspan></text>
<text y="2111.8" font-size="20" stroke-width="0.40"><tspan x="148.30" textLength="39.22">For </tspan><tspan x="187.52" textLength="59.10">more </tspan><tspan x="246.62" textLength="122.54">information </tspan><tspan x="369.16" textLength="57.22">visit: </tspan><tspan x="426.38" textLength="32.48" class="lk">30 </tspan><tspan x="458.86" textLength="51.36" class="lk">year </tspan><tspan x="510.22" textLength="87.76" class="lk">normals </tspan><tspan x="597.98" textLength="113.70" class="lk">calculation </tspan><tspan x="711.68" textLength="109.86" class="lk">description</tspan></text>
<rect x="1937" y="142" width="310" height="1582" fill="#fff" stroke="#e2e2e2" stroke-width="4"/>
<g><path d="M1979.00,177.50 L1983.60,182.10 L1988.20,177.50 L1983.60,172.90 L1988.20,168.30 L1983.60,163.70 L1979.00,168.30 L1974.40,163.70 L1969.80,168.30 L1974.40,172.90 L1969.80,177.50 L1974.40,182.10Z" fill="rgba(108,233,70,0.78)"/><text y="181.4" font-size="24" stroke-width="0.48"><tspan x="2019.00" textLength="94.13">Median </tspan><tspan x="2113.13" textLength="65.86">Peak </tspan><tspan x="2178.98" textLength="55.32">SWE</tspan></text></g>
<g><path d="M1949,210.9 H2009" stroke="rgba(1,0,227,0.4)" stroke-width="4"/><text y="219.4" font-size="24" stroke-width="0.48"><tspan x="2019.00" textLength="48.86">Max</tspan></text></g>
<g class="dim"><path d="M1949,248.9 H2009" stroke="rgba(108,233,70,0.4)" stroke-width="4" stroke-dasharray="18,18"/><text y="257.4" font-size="24" stroke-width="0.48"><tspan x="2019.00" textLength="94.13">Median </tspan><tspan x="2113.13" textLength="71.83">(POR)</tspan></text></g>
<g><path d="M1949,286.9 H2009" stroke="rgba(108,233,70,0.4)" stroke-width="4"/><text y="295.4" font-size="24" stroke-width="0.48"><tspan x="2019.00" textLength="94.13">Median </tspan><tspan x="2113.13" textLength="106.66">('81-'10)</tspan></text></g>
<g><path d="M1949,324.9 H2009" stroke="rgba(217,47,32,0.5)" stroke-width="4"/><text y="333.4" font-size="24" stroke-width="0.48"><tspan x="2019.00" textLength="42.00">Min</tspan></text></g>
<g><rect x="1949" y="358.9" width="60" height="12" fill="rgba(147,234,129,0.15)"/><text y="371.4" font-size="24" stroke-width="0.48"><tspan x="2019.00" textLength="79.44">Stats. </tspan><tspan x="2098.44" textLength="97.70">Shading</tspan></text></g>
<g><path d="M1949,400.9 H2009" stroke="#000" stroke-width="4"/><text y="409.4" font-size="24" stroke-width="0.48"><tspan x="2019.00" textLength="69.50">2021 </tspan><tspan x="2088.50" textLength="34.61">(5 </tspan><tspan x="2123.11" textLength="66.24">sites)</tspan></text></g>
<g><path d="M1949,438.9 H2009" stroke="rgb(161,102,242)" stroke-width="4"/><text y="447.4" font-size="24" stroke-width="0.48"><tspan x="2019.00" textLength="69.50">2020 </tspan><tspan x="2088.50" textLength="34.61">(5 </tspan><tspan x="2123.11" textLength="66.24">sites)</tspan></text></g>
<g class="dim"><path d="M1949,476.9 H2009" stroke="rgb(92,201,154)" stroke-width="4"/><text y="485.4" font-size="24" stroke-width="0.48"><tspan x="2019.00" textLength="69.50">2019 </tspan><tspan x="2088.50" textLength="34.61">(5 </tspan><tspan x="2123.11" textLength="66.24">sites)</tspan></text></g>
<g class="dim"><path d="M1949,514.9 H2009" stroke="rgb(221,96,70)" stroke-width="4"/><text y="523.4" font-size="24" stroke-width="0.48"><tspan x="2019.00" textLength="69.50">2018 </tspan><tspan x="2088.50" textLength="34.61">(5 </tspan><tspan x="2123.11" textLength="66.24">sites)</tspan></text></g>
<g class="dim"><path d="M1949,552.9 H2009" stroke="rgb(101,110,242)" stroke-width="4"/><text y="561.4" font-size="24" stroke-width="0.48"><tspan x="2019.00" textLength="69.50">2017 </tspan><tspan x="2088.50" textLength="34.61">(5 </tspan><tspan x="2123.11" textLength="66.24">sites)</tspan></text></g>
<g class="dim"><path d="M1949,590.9 H2009" stroke="rgb(246,205,103)" stroke-width="4"/><text y="599.4" font-size="24" stroke-width="0.48"><tspan x="2019.00" textLength="69.50">2016 </tspan><tspan x="2088.50" textLength="34.61">(5 </tspan><tspan x="2123.11" textLength="66.24">sites)</tspan></text></g>
<g class="dim"><path d="M1949,628.9 H2009" stroke="rgb(241,156,249)" stroke-width="4"/><text y="637.4" font-size="24" stroke-width="0.48"><tspan x="2019.00" textLength="69.50">2015 </tspan><tspan x="2088.50" textLength="34.61">(5 </tspan><tspan x="2123.11" textLength="66.24">sites)</tspan></text></g>
<g class="dim"><path d="M1949,666.9 H2009" stroke="rgb(192,231,140)" stroke-width="4"/><text y="675.4" font-size="24" stroke-width="0.48"><tspan x="2019.00" textLength="69.50">2014 </tspan><tspan x="2088.50" textLength="34.61">(5 </tspan><tspan x="2123.11" textLength="66.24">sites)</tspan></text></g>
<g class="dim"><path d="M1949,704.9 H2009" stroke="rgb(237,112,146)" stroke-width="4"/><text y="713.4" font-size="24" stroke-width="0.48"><tspan x="2019.00" textLength="69.50">2013 </tspan><tspan x="2088.50" textLength="34.61">(5 </tspan><tspan x="2123.11" textLength="66.24">sites)</tspan></text></g>
<g class="dim"><path d="M1949,742.9 H2009" stroke="rgb(99,208,239)" stroke-width="4"/><text y="751.4" font-size="24" stroke-width="0.48"><tspan x="2019.00" textLength="69.50">2012 </tspan><tspan x="2088.50" textLength="34.61">(5 </tspan><tspan x="2123.11" textLength="66.24">sites)</tspan></text></g>
<g class="dim"><path d="M1949,780.9 H2009" stroke="rgb(242,165,103)" stroke-width="4"/><text y="789.4" font-size="24" stroke-width="0.48"><tspan x="2019.00" textLength="69.50">2011 </tspan><tspan x="2088.50" textLength="34.61">(5 </tspan><tspan x="2123.11" textLength="66.24">sites)</tspan></text></g>
<g class="dim"><path d="M1949,818.9 H2009" stroke="rgb(161,102,242)" stroke-width="4"/><text y="827.4" font-size="24" stroke-width="0.48"><tspan x="2019.00" textLength="69.50">2010 </tspan><tspan x="2088.50" textLength="34.61">(5 </tspan><tspan x="2123.11" textLength="66.24">sites)</tspan></text></g>
<g class="dim"><path d="M1949,856.9 H2009" stroke="rgb(92,201,154)" stroke-width="4"/><text y="865.4" font-size="24" stroke-width="0.48"><tspan x="2019.00" textLength="69.50">2009 </tspan><tspan x="2088.50" textLength="34.61">(5 </tspan><tspan x="2123.11" textLength="66.24">sites)</tspan></text></g>
<g class="dim"><path d="M1949,894.9 H2009" stroke="rgb(221,96,70)" stroke-width="4"/><text y="903.4" font-size="24" stroke-width="0.48"><tspan x="2019.00" textLength="69.50">2008 </tspan><tspan x="2088.50" textLength="34.61">(5 </tspan><tspan x="2123.11" textLength="66.24">sites)</tspan></text></g>
<g class="dim"><path d="M1949,932.9 H2009" stroke="rgb(101,110,242)" stroke-width="4"/><text y="941.4" font-size="24" stroke-width="0.48"><tspan x="2019.00" textLength="69.50">2007 </tspan><tspan x="2088.50" textLength="34.61">(5 </tspan><tspan x="2123.11" textLength="66.24">sites)</tspan></text></g>
<g class="dim"><path d="M1949,970.9 H2009" stroke="rgb(246,205,103)" stroke-width="4"/><text y="979.4" font-size="24" stroke-width="0.48"><tspan x="2019.00" textLength="69.50">2006 </tspan><tspan x="2088.50" textLength="34.61">(5 </tspan><tspan x="2123.11" textLength="66.24">sites)</tspan></text></g>
<g class="dim"><path d="M1949,1008.9 H2009" stroke="rgb(241,156,249)" stroke-width="4"/><text y="1017.4" font-size="24" stroke-width="0.48"><tspan x="2019.00" textLength="69.50">2005 </tspan><tspan x="2088.50" textLength="34.61">(5 </tspan><tspan x="2123.11" textLength="66.24">sites)</tspan></text></g>
<g class="dim"><path d="M1949,1046.9 H2009" stroke="rgb(192,231,140)" stroke-width="4"/><text y="1055.4" font-size="24" stroke-width="0.48"><tspan x="2019.00" textLength="69.50">2004 </tspan><tspan x="2088.50" textLength="34.61">(5 </tspan><tspan x="2123.11" textLength="66.24">sites)</tspan></text></g>
<g class="dim"><path d="M1949,1084.9 H2009" stroke="rgb(237,112,146)" stroke-width="4"/><text y="1093.4" font-size="24" stroke-width="0.48"><tspan x="2019.00" textLength="69.50">2003 </tspan><tspan x="2088.50" textLength="34.61">(5 </tspan><tspan x="2123.11" textLength="66.24">sites)</tspan></text></g>
<g><path d="M1949,1122.9 H2009" stroke="rgb(99,208,239)" stroke-width="4"/><text y="1131.4" font-size="24" stroke-width="0.48"><tspan x="2019.00" textLength="69.50">2002 </tspan><tspan x="2088.50" textLength="34.61">(5 </tspan><tspan x="2123.11" textLength="66.24">sites)</tspan></text></g>
<g class="dim"><path d="M1949,1160.9 H2009" stroke="rgb(242,165,103)" stroke-width="4"/><text y="1169.4" font-size="24" stroke-width="0.48"><tspan x="2019.00" textLength="69.50">2001 </tspan><tspan x="2088.50" textLength="34.61">(5 </tspan><tspan x="2123.11" textLength="66.24">sites)</tspan></text></g>
<g class="dim"><path d="M1949,1198.9 H2009" stroke="rgb(161,102,242)" stroke-width="4"/><text y="1207.4" font-size="24" stroke-width="0.48"><tspan x="2019.00" textLength="69.50">2000 </tspan><tspan x="2088.50" textLength="34.61">(5 </tspan><tspan x="2123.11" textLength="66.24">sites)</tspan></text></g>
<g class="dim"><path d="M1949,1236.9 H2009" stroke="rgb(92,201,154)" stroke-width="4"/><text y="1245.4" font-size="24" stroke-width="0.48"><tspan x="2019.00" textLength="69.50">1999 </tspan><tspan x="2088.50" textLength="34.61">(5 </tspan><tspan x="2123.11" textLength="66.24">sites)</tspan></text></g>
<g class="dim"><path d="M1949,1274.9 H2009" stroke="rgb(221,96,70)" stroke-width="4"/><text y="1283.4" font-size="24" stroke-width="0.48"><tspan x="2019.00" textLength="69.50">1998 </tspan><tspan x="2088.50" textLength="34.61">(5 </tspan><tspan x="2123.11" textLength="66.24">sites)</tspan></text></g>
<g><path d="M1949,1312.9 H2009" stroke="rgb(101,110,242)" stroke-width="4"/><text y="1321.4" font-size="24" stroke-width="0.48"><tspan x="2019.00" textLength="69.50">1997 </tspan><tspan x="2088.50" textLength="34.61">(5 </tspan><tspan x="2123.11" textLength="66.24">sites)</tspan></text></g>
<g class="dim"><path d="M1949,1350.9 H2009" stroke="rgb(246,205,103)" stroke-width="4"/><text y="1359.4" font-size="24" stroke-width="0.48"><tspan x="2019.00" textLength="69.50">1996 </tspan><tspan x="2088.50" textLength="34.61">(5 </tspan><tspan x="2123.11" textLength="66.24">sites)</tspan></text></g>
<g class="dim"><path d="M1949,1388.9 H2009" stroke="rgb(241,156,249)" stroke-width="4"/><text y="1397.4" font-size="24" stroke-width="0.48"><tspan x="2019.00" textLength="69.50">1995 </tspan><tspan x="2088.50" textLength="34.61">(5 </tspan><tspan x="2123.11" textLength="66.24">sites)</tspan></text></g>
<g class="dim"><path d="M1949,1426.9 H2009" stroke="rgb(192,231,140)" stroke-width="4"/><text y="1435.4" font-size="24" stroke-width="0.48"><tspan x="2019.00" textLength="69.50">1994 </tspan><tspan x="2088.50" textLength="34.61">(5 </tspan><tspan x="2123.11" textLength="66.24">sites)</tspan></text></g>
<g class="dim"><path d="M1949,1464.9 H2009" stroke="rgb(237,112,146)" stroke-width="4"/><text y="1473.4" font-size="24" stroke-width="0.48"><tspan x="2019.00" textLength="69.50">1993 </tspan><tspan x="2088.50" textLength="34.61">(5 </tspan><tspan x="2123.11" textLength="66.24">sites)</tspan></text></g>
<g class="dim"><path d="M1949,1502.9 H2009" stroke="rgb(99,208,239)" stroke-width="4"/><text y="1511.4" font-size="24" stroke-width="0.48"><tspan x="2019.00" textLength="69.50">1992 </tspan><tspan x="2088.50" textLength="34.61">(5 </tspan><tspan x="2123.11" textLength="66.24">sites)</tspan></text></g>
<g class="dim"><path d="M1949,1540.9 H2009" stroke="rgb(242,165,103)" stroke-width="4"/><text y="1549.4" font-size="24" stroke-width="0.48"><tspan x="2019.00" textLength="69.50">1991 </tspan><tspan x="2088.50" textLength="34.61">(5 </tspan><tspan x="2123.11" textLength="66.24">sites)</tspan></text></g>
<g class="dim"><path d="M1949,1578.9 H2009" stroke="rgb(161,102,242)" stroke-width="4"/><text y="1587.4" font-size="24" stroke-width="0.48"><tspan x="2019.00" textLength="69.50">1990 </tspan><tspan x="2088.50" textLength="34.61">(5 </tspan><tspan x="2123.11" textLength="66.24">sites)</tspan></text></g>
<g class="dim"><path d="M1949,1616.9 H2009" stroke="rgb(92,201,154)" stroke-width="4"/><text y="1625.4" font-size="24" stroke-width="0.48"><tspan x="2019.00" textLength="69.50">1989 </tspan><tspan x="2088.50" textLength="34.61">(5 </tspan><tspan x="2123.11" textLength="66.24">sites)</tspan></text></g>
<g class="dim"><path d="M1949,1654.9 H2009" stroke="rgb(221,96,70)" stroke-width="4"/><text y="1663.4" font-size="24" stroke-width="0.48"><tspan x="2019.00" textLength="69.50">1988 </tspan><tspan x="2088.50" textLength="34.61">(5 </tspan><tspan x="2123.11" textLength="66.24">sites)</tspan></text></g>
<g class="dim"><path d="M1949,1692.9 H2009" stroke="rgb(101,110,242)" stroke-width="4"/><text y="1701.4" font-size="24" stroke-width="0.48"><tspan x="2019.00" textLength="69.50">1987 </tspan><tspan x="2088.50" textLength="34.61">(5 </tspan><tspan x="2123.11" textLength="66.24">sites)</tspan></text></g>
</svg></body></html>
